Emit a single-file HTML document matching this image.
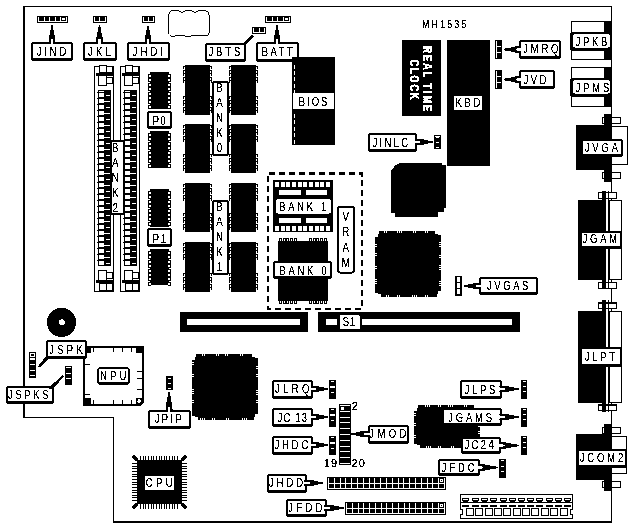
<!DOCTYPE html>
<html><head><meta charset="utf-8"><style>
html,body{margin:0;padding:0;background:#fff;}
body{width:633px;height:527px;overflow:hidden;font-family:"Liberation Sans",sans-serif;}
svg{display:block;}
</style></head><body>
<svg width="633" height="527" viewBox="0 0 633 527">
<defs><filter id="bw" x="0" y="0" width="633" height="527" filterUnits="userSpaceOnUse" color-interpolation-filters="sRGB">
<feColorMatrix type="matrix" values="0.333 0.333 0.333 0 0 0.333 0.333 0.333 0 0 0.333 0.333 0.333 0 0 0 0 0 1 0"/>
<feComponentTransfer><feFuncR type="discrete" tableValues="0 1"/><feFuncG type="discrete" tableValues="0 1"/><feFuncB type="discrete" tableValues="0 1"/></feComponentTransfer>
</filter></defs>
<g filter="url(#bw)">
<rect width="633" height="527" fill="#fff"/>
<rect x="23" y="6" width="589" height="1" fill="#000" />
<rect x="23" y="6" width="2" height="412" fill="#000" />
<rect x="23" y="417" width="91" height="1" fill="#000" />
<rect x="113" y="417" width="1" height="106" fill="#000" />
<rect x="113" y="521" width="499" height="2" fill="#000" />
<rect x="611" y="6" width="1" height="517" fill="#000" />
<rect x="37" y="16" width="31" height="7" fill="#000" />
<rect x="38" y="17" width="29" height="5" fill="#fff" />
<rect x="39" y="16" width="5" height="5" fill="#000" />
<rect x="45" y="16" width="4" height="5" fill="#000" />
<rect x="50" y="16" width="5" height="5" fill="#000" />
<rect x="56" y="16" width="4" height="5" fill="#000" />
<rect x="61" y="16" width="5" height="5" fill="#000" />
<rect x="62" y="18" width="3" height="2" fill="#fff" />
<rect x="93" y="16" width="14" height="7" fill="#000" />
<rect x="94" y="17" width="12" height="5" fill="#fff" />
<rect x="95" y="16" width="4" height="5" fill="#000" />
<rect x="100" y="16" width="5" height="5" fill="#000" />
<rect x="142" y="16" width="13" height="7" fill="#000" />
<rect x="143" y="17" width="11" height="5" fill="#fff" />
<rect x="144" y="16" width="4" height="5" fill="#000" />
<rect x="149" y="16" width="4" height="5" fill="#000" />
<rect x="252" y="27" width="14" height="7" fill="#000" />
<rect x="253" y="28" width="12" height="5" fill="#fff" />
<rect x="254" y="27" width="5" height="5" fill="#000" />
<rect x="260" y="27" width="4" height="5" fill="#000" />
<rect x="265" y="16" width="26" height="7" fill="#000" />
<rect x="266" y="17" width="24" height="5" fill="#fff" />
<rect x="267" y="16" width="5" height="5" fill="#000" />
<rect x="273" y="16" width="4" height="5" fill="#000" />
<rect x="278" y="16" width="5" height="5" fill="#000" />
<rect x="284" y="16" width="5" height="5" fill="#000" />
<rect x="285" y="18" width="3" height="2" fill="#fff" />
<rect x="31" y="42" width="42" height="19" rx="2" fill="#000"/>
<rect x="33" y="44" width="38" height="14" rx="1" fill="#fff"/>
<text transform="translate(51.50,55.6) scale(0.7,1)" text-anchor="middle" font-size="13.5" font-family="Liberation Sans, sans-serif" fill="#000" stroke="#000" stroke-width="0.2" font-weight="normal" textLength="42.29" lengthAdjust="spacing">JIND</text>
<polygon points="48.50,44.00 48.50,42.00 49.00,36.90 49.90,32.65 50.70,28.40 51.30,25.00 52.70,25.00 53.30,28.40 54.10,32.65 55.00,36.90 55.50,42.00 55.50,44.00" fill="#000"/>
<polygon points="51.00,44.50 51.00,39.28 51.50,38.60 52.50,38.60 53.00,39.28 53.00,44.50" fill="#fff"/>
<rect x="83" y="42" width="34" height="19" rx="2" fill="#000"/>
<rect x="85" y="44" width="30" height="14" rx="1" fill="#fff"/>
<text transform="translate(99.45,55.8) scale(0.7,1)" text-anchor="middle" font-size="13.5" font-family="Liberation Sans, sans-serif" fill="#000" stroke="#000" stroke-width="0.2" font-weight="normal" textLength="32.71" lengthAdjust="spacing">JKL</text>
<polygon points="96.00,44.00 96.00,42.00 96.50,37.05 97.40,32.92 98.20,28.80 98.80,25.50 100.20,25.50 100.80,28.80 101.60,32.92 102.50,37.05 103.00,42.00 103.00,44.00" fill="#000"/>
<polygon points="98.50,44.50 98.50,39.36 99.00,38.70 100.00,38.70 100.50,39.36 100.50,44.50" fill="#fff"/>
<rect x="127" y="42" width="43" height="19" rx="2" fill="#000"/>
<rect x="129" y="44" width="39" height="14" rx="1" fill="#fff"/>
<text transform="translate(147.80,55.8) scale(0.7,1)" text-anchor="middle" font-size="13.5" font-family="Liberation Sans, sans-serif" fill="#000" stroke="#000" stroke-width="0.2" font-weight="normal" textLength="43.71" lengthAdjust="spacing">JHDI</text>
<polygon points="144.50,44.00 144.50,42.00 145.00,37.05 145.90,32.92 146.70,28.80 147.30,25.50 148.70,25.50 149.30,28.80 150.10,32.92 151.00,37.05 151.50,42.00 151.50,44.00" fill="#000"/>
<polygon points="147.00,44.50 147.00,39.36 147.50,38.70 148.50,38.70 149.00,39.36 149.00,44.50" fill="#fff"/>
<rect x="205" y="43" width="41" height="19" rx="2" fill="#000"/>
<rect x="207" y="45" width="37" height="14" rx="1" fill="#fff"/>
<text transform="translate(224.40,56) scale(0.7,1)" text-anchor="middle" font-size="13.5" font-family="Liberation Sans, sans-serif" fill="#000" stroke="#000" stroke-width="0.2" font-weight="normal" textLength="45.71" lengthAdjust="spacing">JBTS</text>
<polygon points="242.80,43.20 245.80,44.80 254.40,36.40 252.30,34.80" fill="#000"/>
<rect x="256" y="42" width="43" height="20" rx="2" fill="#000"/>
<rect x="258" y="44" width="39" height="15" rx="1" fill="#fff"/>
<text transform="translate(277.25,55.9) scale(0.7,1)" text-anchor="middle" font-size="13.5" font-family="Liberation Sans, sans-serif" fill="#000" stroke="#000" stroke-width="0.2" font-weight="normal" textLength="44.43" lengthAdjust="spacing">BATT</text>
<polygon points="273.50,44.00 273.50,42.00 274.00,36.90 274.90,32.65 275.70,28.40 276.30,25.00 277.70,25.00 278.30,28.40 279.10,32.65 280.00,36.90 280.50,42.00 280.50,44.00" fill="#000"/>
<polygon points="276.00,44.50 276.00,39.28 276.50,38.60 277.50,38.60 278.00,39.28 278.00,44.50" fill="#fff"/>
<path d="M168.5,16 L169.5,12.5 L172,10.5 L178.5,10.5 L181,12 L183,12 L186,10.5 L191,10.5 L194,12 L196,12 L199,10.5 L205,10.5 L208,11.5 L209.5,16 L209.5,32 L208,35 L205,36 L202,35.5 L192,35.5 L189,36.5 L186,36.5 L184,35.5 L176,35.5 L174,36.5 L171,36.5 L169,34.5 L168.5,32 Z" fill="none" stroke="#000" stroke-width="1"/>
<rect x="94" y="66" width="20" height="226" fill="#000" />
<rect x="95" y="67" width="18" height="224" fill="#fff" />
<rect x="99" y="65" width="8" height="8" fill="#000" />
<rect x="100" y="66" width="6" height="6" fill="#fff" />
<rect x="106" y="66" width="7" height="7" fill="#000" />
<rect x="107" y="67" width="5" height="5" fill="#fff" />
<rect x="96" y="73" width="17" height="3" fill="#000" />
<rect x="98" y="76" width="9" height="10" fill="#000" />
<rect x="99" y="76" width="7" height="9" fill="#fff" />
<rect x="106" y="77" width="7" height="7" fill="#000" />
<rect x="107" y="78" width="5" height="5" fill="#fff" />
<rect x="98" y="270" width="9" height="10" fill="#000" />
<rect x="99" y="271" width="7" height="9" fill="#fff" />
<rect x="106" y="272" width="7" height="7" fill="#000" />
<rect x="107" y="273" width="5" height="5" fill="#fff" />
<rect x="96" y="280" width="17" height="3" fill="#000" />
<rect x="99" y="283" width="8" height="8" fill="#000" />
<rect x="100" y="284" width="6" height="6" fill="#fff" />
<rect x="106" y="283" width="7" height="8" fill="#000" />
<rect x="107" y="284" width="5" height="6" fill="#fff" />
<rect x="97" y="90" width="14" height="176" fill="#000" />
<rect x="97" y="90" width="1" height="176" fill="#fff" />
<rect x="99" y="93" width="5" height="4" fill="#fff" />
<rect x="97" y="92" width="1" height="1" fill="#000" />
<rect x="106" y="95" width="4" height="1" fill="#fff" />
<rect x="99" y="99" width="5" height="4" fill="#fff" />
<rect x="97" y="98" width="1" height="1" fill="#000" />
<rect x="104" y="101" width="6" height="1" fill="#fff" />
<rect x="99" y="105" width="5" height="4" fill="#fff" />
<rect x="97" y="104" width="1" height="1" fill="#000" />
<rect x="106" y="107" width="4" height="1" fill="#fff" />
<rect x="99" y="111" width="5" height="4" fill="#fff" />
<rect x="97" y="110" width="1" height="1" fill="#000" />
<rect x="104" y="113" width="6" height="1" fill="#fff" />
<rect x="99" y="117" width="5" height="4" fill="#fff" />
<rect x="97" y="116" width="1" height="1" fill="#000" />
<rect x="106" y="119" width="4" height="1" fill="#fff" />
<rect x="99" y="123" width="5" height="4" fill="#fff" />
<rect x="97" y="122" width="1" height="1" fill="#000" />
<rect x="104" y="125" width="6" height="1" fill="#fff" />
<rect x="99" y="129" width="5" height="4" fill="#fff" />
<rect x="97" y="128" width="1" height="1" fill="#000" />
<rect x="106" y="131" width="4" height="1" fill="#fff" />
<rect x="99" y="135" width="5" height="4" fill="#fff" />
<rect x="97" y="134" width="1" height="1" fill="#000" />
<rect x="104" y="137" width="6" height="1" fill="#fff" />
<rect x="99" y="141" width="5" height="4" fill="#fff" />
<rect x="97" y="140" width="1" height="1" fill="#000" />
<rect x="106" y="143" width="4" height="1" fill="#fff" />
<rect x="99" y="147" width="5" height="4" fill="#fff" />
<rect x="97" y="146" width="1" height="1" fill="#000" />
<rect x="104" y="149" width="6" height="1" fill="#fff" />
<rect x="99" y="153" width="5" height="4" fill="#fff" />
<rect x="97" y="152" width="1" height="1" fill="#000" />
<rect x="106" y="155" width="4" height="1" fill="#fff" />
<rect x="99" y="159" width="5" height="4" fill="#fff" />
<rect x="97" y="158" width="1" height="1" fill="#000" />
<rect x="104" y="161" width="6" height="1" fill="#fff" />
<rect x="99" y="165" width="5" height="4" fill="#fff" />
<rect x="97" y="164" width="1" height="1" fill="#000" />
<rect x="106" y="167" width="4" height="1" fill="#fff" />
<rect x="99" y="171" width="5" height="4" fill="#fff" />
<rect x="97" y="170" width="1" height="1" fill="#000" />
<rect x="104" y="173" width="6" height="1" fill="#fff" />
<rect x="99" y="177" width="5" height="4" fill="#fff" />
<rect x="97" y="176" width="1" height="1" fill="#000" />
<rect x="106" y="179" width="4" height="1" fill="#fff" />
<rect x="99" y="183" width="5" height="4" fill="#fff" />
<rect x="97" y="182" width="1" height="1" fill="#000" />
<rect x="104" y="185" width="6" height="1" fill="#fff" />
<rect x="99" y="189" width="5" height="4" fill="#fff" />
<rect x="97" y="188" width="1" height="1" fill="#000" />
<rect x="106" y="191" width="4" height="1" fill="#fff" />
<rect x="99" y="195" width="5" height="4" fill="#fff" />
<rect x="97" y="194" width="1" height="1" fill="#000" />
<rect x="104" y="197" width="6" height="1" fill="#fff" />
<rect x="99" y="201" width="5" height="4" fill="#fff" />
<rect x="97" y="200" width="1" height="1" fill="#000" />
<rect x="106" y="203" width="4" height="1" fill="#fff" />
<rect x="99" y="207" width="5" height="4" fill="#fff" />
<rect x="97" y="206" width="1" height="1" fill="#000" />
<rect x="104" y="209" width="6" height="1" fill="#fff" />
<rect x="99" y="213" width="5" height="4" fill="#fff" />
<rect x="97" y="212" width="1" height="1" fill="#000" />
<rect x="106" y="215" width="4" height="1" fill="#fff" />
<rect x="99" y="219" width="5" height="4" fill="#fff" />
<rect x="97" y="218" width="1" height="1" fill="#000" />
<rect x="104" y="221" width="6" height="1" fill="#fff" />
<rect x="99" y="225" width="5" height="4" fill="#fff" />
<rect x="97" y="224" width="1" height="1" fill="#000" />
<rect x="106" y="227" width="4" height="1" fill="#fff" />
<rect x="99" y="231" width="5" height="4" fill="#fff" />
<rect x="97" y="230" width="1" height="1" fill="#000" />
<rect x="104" y="233" width="6" height="1" fill="#fff" />
<rect x="99" y="237" width="5" height="4" fill="#fff" />
<rect x="97" y="236" width="1" height="1" fill="#000" />
<rect x="106" y="239" width="4" height="1" fill="#fff" />
<rect x="99" y="243" width="5" height="4" fill="#fff" />
<rect x="97" y="242" width="1" height="1" fill="#000" />
<rect x="104" y="245" width="6" height="1" fill="#fff" />
<rect x="99" y="249" width="5" height="4" fill="#fff" />
<rect x="97" y="248" width="1" height="1" fill="#000" />
<rect x="106" y="251" width="4" height="1" fill="#fff" />
<rect x="99" y="255" width="5" height="4" fill="#fff" />
<rect x="97" y="254" width="1" height="1" fill="#000" />
<rect x="104" y="257" width="6" height="1" fill="#fff" />
<rect x="99" y="261" width="5" height="4" fill="#fff" />
<rect x="97" y="260" width="1" height="1" fill="#000" />
<rect x="106" y="263" width="4" height="1" fill="#fff" />
<rect x="99" y="91" width="5" height="1" fill="#fff" />
<rect x="120" y="66" width="20" height="226" fill="#000" />
<rect x="121" y="67" width="18" height="224" fill="#fff" />
<rect x="125" y="65" width="8" height="8" fill="#000" />
<rect x="126" y="66" width="6" height="6" fill="#fff" />
<rect x="132" y="66" width="7" height="7" fill="#000" />
<rect x="133" y="67" width="5" height="5" fill="#fff" />
<rect x="122" y="73" width="17" height="3" fill="#000" />
<rect x="124" y="76" width="9" height="10" fill="#000" />
<rect x="125" y="76" width="7" height="9" fill="#fff" />
<rect x="132" y="77" width="7" height="7" fill="#000" />
<rect x="133" y="78" width="5" height="5" fill="#fff" />
<rect x="124" y="270" width="9" height="10" fill="#000" />
<rect x="125" y="271" width="7" height="9" fill="#fff" />
<rect x="132" y="272" width="7" height="7" fill="#000" />
<rect x="133" y="273" width="5" height="5" fill="#fff" />
<rect x="122" y="280" width="17" height="3" fill="#000" />
<rect x="125" y="283" width="8" height="8" fill="#000" />
<rect x="126" y="284" width="6" height="6" fill="#fff" />
<rect x="132" y="283" width="7" height="8" fill="#000" />
<rect x="133" y="284" width="5" height="6" fill="#fff" />
<rect x="123" y="90" width="14" height="176" fill="#000" />
<rect x="123" y="90" width="1" height="176" fill="#fff" />
<rect x="125" y="93" width="5" height="4" fill="#fff" />
<rect x="123" y="92" width="1" height="1" fill="#000" />
<rect x="132" y="95" width="4" height="1" fill="#fff" />
<rect x="125" y="99" width="5" height="4" fill="#fff" />
<rect x="123" y="98" width="1" height="1" fill="#000" />
<rect x="130" y="101" width="6" height="1" fill="#fff" />
<rect x="125" y="105" width="5" height="4" fill="#fff" />
<rect x="123" y="104" width="1" height="1" fill="#000" />
<rect x="132" y="107" width="4" height="1" fill="#fff" />
<rect x="125" y="111" width="5" height="4" fill="#fff" />
<rect x="123" y="110" width="1" height="1" fill="#000" />
<rect x="130" y="113" width="6" height="1" fill="#fff" />
<rect x="125" y="117" width="5" height="4" fill="#fff" />
<rect x="123" y="116" width="1" height="1" fill="#000" />
<rect x="132" y="119" width="4" height="1" fill="#fff" />
<rect x="125" y="123" width="5" height="4" fill="#fff" />
<rect x="123" y="122" width="1" height="1" fill="#000" />
<rect x="130" y="125" width="6" height="1" fill="#fff" />
<rect x="125" y="129" width="5" height="4" fill="#fff" />
<rect x="123" y="128" width="1" height="1" fill="#000" />
<rect x="132" y="131" width="4" height="1" fill="#fff" />
<rect x="125" y="135" width="5" height="4" fill="#fff" />
<rect x="123" y="134" width="1" height="1" fill="#000" />
<rect x="130" y="137" width="6" height="1" fill="#fff" />
<rect x="125" y="141" width="5" height="4" fill="#fff" />
<rect x="123" y="140" width="1" height="1" fill="#000" />
<rect x="132" y="143" width="4" height="1" fill="#fff" />
<rect x="125" y="147" width="5" height="4" fill="#fff" />
<rect x="123" y="146" width="1" height="1" fill="#000" />
<rect x="130" y="149" width="6" height="1" fill="#fff" />
<rect x="125" y="153" width="5" height="4" fill="#fff" />
<rect x="123" y="152" width="1" height="1" fill="#000" />
<rect x="132" y="155" width="4" height="1" fill="#fff" />
<rect x="125" y="159" width="5" height="4" fill="#fff" />
<rect x="123" y="158" width="1" height="1" fill="#000" />
<rect x="130" y="161" width="6" height="1" fill="#fff" />
<rect x="125" y="165" width="5" height="4" fill="#fff" />
<rect x="123" y="164" width="1" height="1" fill="#000" />
<rect x="132" y="167" width="4" height="1" fill="#fff" />
<rect x="125" y="171" width="5" height="4" fill="#fff" />
<rect x="123" y="170" width="1" height="1" fill="#000" />
<rect x="130" y="173" width="6" height="1" fill="#fff" />
<rect x="125" y="177" width="5" height="4" fill="#fff" />
<rect x="123" y="176" width="1" height="1" fill="#000" />
<rect x="132" y="179" width="4" height="1" fill="#fff" />
<rect x="125" y="183" width="5" height="4" fill="#fff" />
<rect x="123" y="182" width="1" height="1" fill="#000" />
<rect x="130" y="185" width="6" height="1" fill="#fff" />
<rect x="125" y="189" width="5" height="4" fill="#fff" />
<rect x="123" y="188" width="1" height="1" fill="#000" />
<rect x="132" y="191" width="4" height="1" fill="#fff" />
<rect x="125" y="195" width="5" height="4" fill="#fff" />
<rect x="123" y="194" width="1" height="1" fill="#000" />
<rect x="130" y="197" width="6" height="1" fill="#fff" />
<rect x="125" y="201" width="5" height="4" fill="#fff" />
<rect x="123" y="200" width="1" height="1" fill="#000" />
<rect x="132" y="203" width="4" height="1" fill="#fff" />
<rect x="125" y="207" width="5" height="4" fill="#fff" />
<rect x="123" y="206" width="1" height="1" fill="#000" />
<rect x="130" y="209" width="6" height="1" fill="#fff" />
<rect x="125" y="213" width="5" height="4" fill="#fff" />
<rect x="123" y="212" width="1" height="1" fill="#000" />
<rect x="132" y="215" width="4" height="1" fill="#fff" />
<rect x="125" y="219" width="5" height="4" fill="#fff" />
<rect x="123" y="218" width="1" height="1" fill="#000" />
<rect x="130" y="221" width="6" height="1" fill="#fff" />
<rect x="125" y="225" width="5" height="4" fill="#fff" />
<rect x="123" y="224" width="1" height="1" fill="#000" />
<rect x="132" y="227" width="4" height="1" fill="#fff" />
<rect x="125" y="231" width="5" height="4" fill="#fff" />
<rect x="123" y="230" width="1" height="1" fill="#000" />
<rect x="130" y="233" width="6" height="1" fill="#fff" />
<rect x="125" y="237" width="5" height="4" fill="#fff" />
<rect x="123" y="236" width="1" height="1" fill="#000" />
<rect x="132" y="239" width="4" height="1" fill="#fff" />
<rect x="125" y="243" width="5" height="4" fill="#fff" />
<rect x="123" y="242" width="1" height="1" fill="#000" />
<rect x="130" y="245" width="6" height="1" fill="#fff" />
<rect x="125" y="249" width="5" height="4" fill="#fff" />
<rect x="123" y="248" width="1" height="1" fill="#000" />
<rect x="132" y="251" width="4" height="1" fill="#fff" />
<rect x="125" y="255" width="5" height="4" fill="#fff" />
<rect x="123" y="254" width="1" height="1" fill="#000" />
<rect x="130" y="257" width="6" height="1" fill="#fff" />
<rect x="125" y="261" width="5" height="4" fill="#fff" />
<rect x="123" y="260" width="1" height="1" fill="#000" />
<rect x="132" y="263" width="4" height="1" fill="#fff" />
<rect x="125" y="91" width="5" height="1" fill="#fff" />
<rect x="110" y="140" width="15" height="75" rx="2" fill="#000"/>
<rect x="112" y="142" width="11" height="71" rx="1" fill="#fff"/>
<text transform="translate(115.30,151.5) scale(0.78,1)" text-anchor="middle" font-size="12.5" font-family="Liberation Sans, sans-serif" fill="#000" stroke="#000" stroke-width="0.2">B</text>
<text transform="translate(115.30,166.525) scale(0.78,1)" text-anchor="middle" font-size="12.5" font-family="Liberation Sans, sans-serif" fill="#000" stroke="#000" stroke-width="0.2">A</text>
<text transform="translate(115.30,181.55) scale(0.78,1)" text-anchor="middle" font-size="12.5" font-family="Liberation Sans, sans-serif" fill="#000" stroke="#000" stroke-width="0.2">N</text>
<text transform="translate(115.30,196.575) scale(0.78,1)" text-anchor="middle" font-size="12.5" font-family="Liberation Sans, sans-serif" fill="#000" stroke="#000" stroke-width="0.2">K</text>
<text transform="translate(115.30,211.6) scale(0.78,1)" text-anchor="middle" font-size="12.5" font-family="Liberation Sans, sans-serif" fill="#000" stroke="#000" stroke-width="0.2">2</text>
<rect x="150" y="72" width="19" height="37" fill="#000" />
<rect x="148" y="74" width="3" height="4" fill="#000" />
<rect x="149" y="75" width="2" height="2" fill="#fff" />
<rect x="168" y="74" width="3" height="4" fill="#000" />
<rect x="168" y="75" width="2" height="2" fill="#fff" />
<rect x="148" y="78" width="3" height="4" fill="#000" />
<rect x="149" y="79" width="2" height="2" fill="#fff" />
<rect x="168" y="78" width="3" height="4" fill="#000" />
<rect x="168" y="79" width="2" height="2" fill="#fff" />
<rect x="148" y="83" width="3" height="4" fill="#000" />
<rect x="149" y="84" width="2" height="2" fill="#fff" />
<rect x="168" y="83" width="3" height="4" fill="#000" />
<rect x="168" y="84" width="2" height="2" fill="#fff" />
<rect x="148" y="87" width="3" height="4" fill="#000" />
<rect x="149" y="88" width="2" height="2" fill="#fff" />
<rect x="168" y="87" width="3" height="4" fill="#000" />
<rect x="168" y="88" width="2" height="2" fill="#fff" />
<rect x="148" y="92" width="3" height="4" fill="#000" />
<rect x="149" y="93" width="2" height="2" fill="#fff" />
<rect x="168" y="92" width="3" height="4" fill="#000" />
<rect x="168" y="93" width="2" height="2" fill="#fff" />
<rect x="148" y="96" width="3" height="4" fill="#000" />
<rect x="149" y="97" width="2" height="2" fill="#fff" />
<rect x="168" y="96" width="3" height="4" fill="#000" />
<rect x="168" y="97" width="2" height="2" fill="#fff" />
<rect x="148" y="100" width="3" height="4" fill="#000" />
<rect x="149" y="101" width="2" height="2" fill="#fff" />
<rect x="168" y="100" width="3" height="4" fill="#000" />
<rect x="168" y="101" width="2" height="2" fill="#fff" />
<rect x="148" y="105" width="3" height="4" fill="#000" />
<rect x="149" y="106" width="2" height="2" fill="#fff" />
<rect x="168" y="105" width="3" height="4" fill="#000" />
<rect x="168" y="106" width="2" height="2" fill="#fff" />
<rect x="150" y="131" width="19" height="37" fill="#000" />
<rect x="148" y="133" width="3" height="4" fill="#000" />
<rect x="149" y="134" width="2" height="2" fill="#fff" />
<rect x="168" y="133" width="3" height="4" fill="#000" />
<rect x="168" y="134" width="2" height="2" fill="#fff" />
<rect x="148" y="137" width="3" height="4" fill="#000" />
<rect x="149" y="138" width="2" height="2" fill="#fff" />
<rect x="168" y="137" width="3" height="4" fill="#000" />
<rect x="168" y="138" width="2" height="2" fill="#fff" />
<rect x="148" y="142" width="3" height="4" fill="#000" />
<rect x="149" y="143" width="2" height="2" fill="#fff" />
<rect x="168" y="142" width="3" height="4" fill="#000" />
<rect x="168" y="143" width="2" height="2" fill="#fff" />
<rect x="148" y="146" width="3" height="4" fill="#000" />
<rect x="149" y="147" width="2" height="2" fill="#fff" />
<rect x="168" y="146" width="3" height="4" fill="#000" />
<rect x="168" y="147" width="2" height="2" fill="#fff" />
<rect x="148" y="151" width="3" height="4" fill="#000" />
<rect x="149" y="152" width="2" height="2" fill="#fff" />
<rect x="168" y="151" width="3" height="4" fill="#000" />
<rect x="168" y="152" width="2" height="2" fill="#fff" />
<rect x="148" y="155" width="3" height="4" fill="#000" />
<rect x="149" y="156" width="2" height="2" fill="#fff" />
<rect x="168" y="155" width="3" height="4" fill="#000" />
<rect x="168" y="156" width="2" height="2" fill="#fff" />
<rect x="148" y="159" width="3" height="4" fill="#000" />
<rect x="149" y="160" width="2" height="2" fill="#fff" />
<rect x="168" y="159" width="3" height="4" fill="#000" />
<rect x="168" y="160" width="2" height="2" fill="#fff" />
<rect x="148" y="164" width="3" height="4" fill="#000" />
<rect x="149" y="165" width="2" height="2" fill="#fff" />
<rect x="168" y="164" width="3" height="4" fill="#000" />
<rect x="168" y="165" width="2" height="2" fill="#fff" />
<rect x="150" y="189" width="19" height="38" fill="#000" />
<rect x="148" y="191" width="3" height="4" fill="#000" />
<rect x="149" y="192" width="2" height="2" fill="#fff" />
<rect x="168" y="191" width="3" height="4" fill="#000" />
<rect x="168" y="192" width="2" height="2" fill="#fff" />
<rect x="148" y="195" width="3" height="4" fill="#000" />
<rect x="149" y="196" width="2" height="2" fill="#fff" />
<rect x="168" y="195" width="3" height="4" fill="#000" />
<rect x="168" y="196" width="2" height="2" fill="#fff" />
<rect x="148" y="200" width="3" height="4" fill="#000" />
<rect x="149" y="201" width="2" height="2" fill="#fff" />
<rect x="168" y="200" width="3" height="4" fill="#000" />
<rect x="168" y="201" width="2" height="2" fill="#fff" />
<rect x="148" y="204" width="3" height="4" fill="#000" />
<rect x="149" y="205" width="2" height="2" fill="#fff" />
<rect x="168" y="204" width="3" height="4" fill="#000" />
<rect x="168" y="205" width="2" height="2" fill="#fff" />
<rect x="148" y="209" width="3" height="4" fill="#000" />
<rect x="149" y="210" width="2" height="2" fill="#fff" />
<rect x="168" y="209" width="3" height="4" fill="#000" />
<rect x="168" y="210" width="2" height="2" fill="#fff" />
<rect x="148" y="213" width="3" height="4" fill="#000" />
<rect x="149" y="214" width="2" height="2" fill="#fff" />
<rect x="168" y="213" width="3" height="4" fill="#000" />
<rect x="168" y="214" width="2" height="2" fill="#fff" />
<rect x="148" y="217" width="3" height="4" fill="#000" />
<rect x="149" y="218" width="2" height="2" fill="#fff" />
<rect x="168" y="217" width="3" height="4" fill="#000" />
<rect x="168" y="218" width="2" height="2" fill="#fff" />
<rect x="148" y="222" width="3" height="4" fill="#000" />
<rect x="149" y="223" width="2" height="2" fill="#fff" />
<rect x="168" y="222" width="3" height="4" fill="#000" />
<rect x="168" y="223" width="2" height="2" fill="#fff" />
<rect x="150" y="249" width="19" height="36" fill="#000" />
<rect x="148" y="251" width="3" height="4" fill="#000" />
<rect x="149" y="252" width="2" height="2" fill="#fff" />
<rect x="168" y="251" width="3" height="4" fill="#000" />
<rect x="168" y="252" width="2" height="2" fill="#fff" />
<rect x="148" y="255" width="3" height="4" fill="#000" />
<rect x="149" y="256" width="2" height="2" fill="#fff" />
<rect x="168" y="255" width="3" height="4" fill="#000" />
<rect x="168" y="256" width="2" height="2" fill="#fff" />
<rect x="148" y="260" width="3" height="4" fill="#000" />
<rect x="149" y="261" width="2" height="2" fill="#fff" />
<rect x="168" y="260" width="3" height="4" fill="#000" />
<rect x="168" y="261" width="2" height="2" fill="#fff" />
<rect x="148" y="264" width="3" height="4" fill="#000" />
<rect x="149" y="265" width="2" height="2" fill="#fff" />
<rect x="168" y="264" width="3" height="4" fill="#000" />
<rect x="168" y="265" width="2" height="2" fill="#fff" />
<rect x="148" y="269" width="3" height="4" fill="#000" />
<rect x="149" y="270" width="2" height="2" fill="#fff" />
<rect x="168" y="269" width="3" height="4" fill="#000" />
<rect x="168" y="270" width="2" height="2" fill="#fff" />
<rect x="148" y="273" width="3" height="4" fill="#000" />
<rect x="149" y="274" width="2" height="2" fill="#fff" />
<rect x="168" y="273" width="3" height="4" fill="#000" />
<rect x="168" y="274" width="2" height="2" fill="#fff" />
<rect x="148" y="277" width="3" height="4" fill="#000" />
<rect x="149" y="278" width="2" height="2" fill="#fff" />
<rect x="168" y="277" width="3" height="4" fill="#000" />
<rect x="168" y="278" width="2" height="2" fill="#fff" />
<rect x="148" y="282" width="3" height="4" fill="#000" />
<rect x="149" y="283" width="2" height="2" fill="#fff" />
<rect x="168" y="282" width="3" height="4" fill="#000" />
<rect x="168" y="283" width="2" height="2" fill="#fff" />
<rect x="147" y="111" width="25" height="18" rx="2" fill="#000"/>
<rect x="149" y="113" width="21" height="13" rx="1" fill="#fff"/>
<text transform="translate(159.20,125) scale(0.7,1)" text-anchor="middle" font-size="13.5" font-family="Liberation Sans, sans-serif" fill="#000" stroke="#000" stroke-width="0.2" font-weight="normal" textLength="18.57" lengthAdjust="spacing">P0</text>
<rect x="147" y="228" width="25" height="19" rx="2" fill="#000"/>
<rect x="149" y="230" width="21" height="14" rx="1" fill="#fff"/>
<text transform="translate(159.30,242.5) scale(0.7,1)" text-anchor="middle" font-size="13.5" font-family="Liberation Sans, sans-serif" fill="#000" stroke="#000" stroke-width="0.2" font-weight="normal" textLength="18.86" lengthAdjust="spacing">P1</text>
<rect x="185" y="65" width="25" height="50" fill="#000" />
<rect x="183" y="66" width="3" height="3" fill="#000" />
<rect x="184" y="67" width="1" height="1.5" fill="#fff" />
<rect x="209" y="66" width="3" height="3" fill="#000" />
<rect x="210" y="67" width="1" height="1.5" fill="#fff" />
<rect x="183" y="70" width="3" height="3" fill="#000" />
<rect x="184" y="71" width="1" height="1.5" fill="#fff" />
<rect x="209" y="70" width="3" height="3" fill="#000" />
<rect x="210" y="71" width="1" height="1.5" fill="#fff" />
<rect x="183" y="73" width="3" height="3" fill="#000" />
<rect x="184" y="74" width="1" height="1.5" fill="#fff" />
<rect x="209" y="73" width="3" height="3" fill="#000" />
<rect x="210" y="74" width="1" height="1.5" fill="#fff" />
<rect x="183" y="77" width="3" height="3" fill="#000" />
<rect x="184" y="78" width="1" height="1.5" fill="#fff" />
<rect x="209" y="77" width="3" height="3" fill="#000" />
<rect x="210" y="78" width="1" height="1.5" fill="#fff" />
<rect x="183" y="80" width="3" height="3" fill="#000" />
<rect x="184" y="81" width="1" height="1.5" fill="#fff" />
<rect x="209" y="80" width="3" height="3" fill="#000" />
<rect x="210" y="81" width="1" height="1.5" fill="#fff" />
<rect x="183" y="96" width="3" height="3" fill="#000" />
<rect x="184" y="97" width="1" height="1.5" fill="#fff" />
<rect x="209" y="96" width="3" height="3" fill="#000" />
<rect x="210" y="97" width="1" height="1.5" fill="#fff" />
<rect x="183" y="100" width="3" height="3" fill="#000" />
<rect x="184" y="101" width="1" height="1.5" fill="#fff" />
<rect x="209" y="100" width="3" height="3" fill="#000" />
<rect x="210" y="101" width="1" height="1.5" fill="#fff" />
<rect x="183" y="103" width="3" height="3" fill="#000" />
<rect x="184" y="104" width="1" height="1.5" fill="#fff" />
<rect x="209" y="103" width="3" height="3" fill="#000" />
<rect x="210" y="104" width="1" height="1.5" fill="#fff" />
<rect x="183" y="107" width="3" height="3" fill="#000" />
<rect x="184" y="108" width="1" height="1.5" fill="#fff" />
<rect x="209" y="107" width="3" height="3" fill="#000" />
<rect x="210" y="108" width="1" height="1.5" fill="#fff" />
<rect x="183" y="110" width="3" height="3" fill="#000" />
<rect x="184" y="111" width="1" height="1.5" fill="#fff" />
<rect x="209" y="110" width="3" height="3" fill="#000" />
<rect x="210" y="111" width="1" height="1.5" fill="#fff" />
<rect x="231" y="65" width="25" height="50" fill="#000" />
<rect x="229" y="66" width="3" height="3" fill="#000" />
<rect x="230" y="67" width="1" height="1.5" fill="#fff" />
<rect x="255" y="66" width="3" height="3" fill="#000" />
<rect x="256" y="67" width="1" height="1.5" fill="#fff" />
<rect x="229" y="70" width="3" height="3" fill="#000" />
<rect x="230" y="71" width="1" height="1.5" fill="#fff" />
<rect x="255" y="70" width="3" height="3" fill="#000" />
<rect x="256" y="71" width="1" height="1.5" fill="#fff" />
<rect x="229" y="73" width="3" height="3" fill="#000" />
<rect x="230" y="74" width="1" height="1.5" fill="#fff" />
<rect x="255" y="73" width="3" height="3" fill="#000" />
<rect x="256" y="74" width="1" height="1.5" fill="#fff" />
<rect x="229" y="77" width="3" height="3" fill="#000" />
<rect x="230" y="78" width="1" height="1.5" fill="#fff" />
<rect x="255" y="77" width="3" height="3" fill="#000" />
<rect x="256" y="78" width="1" height="1.5" fill="#fff" />
<rect x="229" y="80" width="3" height="3" fill="#000" />
<rect x="230" y="81" width="1" height="1.5" fill="#fff" />
<rect x="255" y="80" width="3" height="3" fill="#000" />
<rect x="256" y="81" width="1" height="1.5" fill="#fff" />
<rect x="229" y="96" width="3" height="3" fill="#000" />
<rect x="230" y="97" width="1" height="1.5" fill="#fff" />
<rect x="255" y="96" width="3" height="3" fill="#000" />
<rect x="256" y="97" width="1" height="1.5" fill="#fff" />
<rect x="229" y="100" width="3" height="3" fill="#000" />
<rect x="230" y="101" width="1" height="1.5" fill="#fff" />
<rect x="255" y="100" width="3" height="3" fill="#000" />
<rect x="256" y="101" width="1" height="1.5" fill="#fff" />
<rect x="229" y="103" width="3" height="3" fill="#000" />
<rect x="230" y="104" width="1" height="1.5" fill="#fff" />
<rect x="255" y="103" width="3" height="3" fill="#000" />
<rect x="256" y="104" width="1" height="1.5" fill="#fff" />
<rect x="229" y="107" width="3" height="3" fill="#000" />
<rect x="230" y="108" width="1" height="1.5" fill="#fff" />
<rect x="255" y="107" width="3" height="3" fill="#000" />
<rect x="256" y="108" width="1" height="1.5" fill="#fff" />
<rect x="229" y="110" width="3" height="3" fill="#000" />
<rect x="230" y="111" width="1" height="1.5" fill="#fff" />
<rect x="255" y="110" width="3" height="3" fill="#000" />
<rect x="256" y="111" width="1" height="1.5" fill="#fff" />
<rect x="185" y="124" width="25" height="49" fill="#000" />
<rect x="183" y="125" width="3" height="3" fill="#000" />
<rect x="184" y="126" width="1" height="1.5" fill="#fff" />
<rect x="209" y="125" width="3" height="3" fill="#000" />
<rect x="210" y="126" width="1" height="1.5" fill="#fff" />
<rect x="183" y="129" width="3" height="3" fill="#000" />
<rect x="184" y="130" width="1" height="1.5" fill="#fff" />
<rect x="209" y="129" width="3" height="3" fill="#000" />
<rect x="210" y="130" width="1" height="1.5" fill="#fff" />
<rect x="183" y="132" width="3" height="3" fill="#000" />
<rect x="184" y="133" width="1" height="1.5" fill="#fff" />
<rect x="209" y="132" width="3" height="3" fill="#000" />
<rect x="210" y="133" width="1" height="1.5" fill="#fff" />
<rect x="183" y="136" width="3" height="3" fill="#000" />
<rect x="184" y="137" width="1" height="1.5" fill="#fff" />
<rect x="209" y="136" width="3" height="3" fill="#000" />
<rect x="210" y="137" width="1" height="1.5" fill="#fff" />
<rect x="183" y="139" width="3" height="3" fill="#000" />
<rect x="184" y="140" width="1" height="1.5" fill="#fff" />
<rect x="209" y="139" width="3" height="3" fill="#000" />
<rect x="210" y="140" width="1" height="1.5" fill="#fff" />
<rect x="183" y="154" width="3" height="3" fill="#000" />
<rect x="184" y="155" width="1" height="1.5" fill="#fff" />
<rect x="209" y="154" width="3" height="3" fill="#000" />
<rect x="210" y="155" width="1" height="1.5" fill="#fff" />
<rect x="183" y="158" width="3" height="3" fill="#000" />
<rect x="184" y="159" width="1" height="1.5" fill="#fff" />
<rect x="209" y="158" width="3" height="3" fill="#000" />
<rect x="210" y="159" width="1" height="1.5" fill="#fff" />
<rect x="183" y="161" width="3" height="3" fill="#000" />
<rect x="184" y="162" width="1" height="1.5" fill="#fff" />
<rect x="209" y="161" width="3" height="3" fill="#000" />
<rect x="210" y="162" width="1" height="1.5" fill="#fff" />
<rect x="183" y="165" width="3" height="3" fill="#000" />
<rect x="184" y="166" width="1" height="1.5" fill="#fff" />
<rect x="209" y="165" width="3" height="3" fill="#000" />
<rect x="210" y="166" width="1" height="1.5" fill="#fff" />
<rect x="183" y="168" width="3" height="3" fill="#000" />
<rect x="184" y="169" width="1" height="1.5" fill="#fff" />
<rect x="209" y="168" width="3" height="3" fill="#000" />
<rect x="210" y="169" width="1" height="1.5" fill="#fff" />
<rect x="231" y="124" width="25" height="49" fill="#000" />
<rect x="229" y="125" width="3" height="3" fill="#000" />
<rect x="230" y="126" width="1" height="1.5" fill="#fff" />
<rect x="255" y="125" width="3" height="3" fill="#000" />
<rect x="256" y="126" width="1" height="1.5" fill="#fff" />
<rect x="229" y="129" width="3" height="3" fill="#000" />
<rect x="230" y="130" width="1" height="1.5" fill="#fff" />
<rect x="255" y="129" width="3" height="3" fill="#000" />
<rect x="256" y="130" width="1" height="1.5" fill="#fff" />
<rect x="229" y="132" width="3" height="3" fill="#000" />
<rect x="230" y="133" width="1" height="1.5" fill="#fff" />
<rect x="255" y="132" width="3" height="3" fill="#000" />
<rect x="256" y="133" width="1" height="1.5" fill="#fff" />
<rect x="229" y="136" width="3" height="3" fill="#000" />
<rect x="230" y="137" width="1" height="1.5" fill="#fff" />
<rect x="255" y="136" width="3" height="3" fill="#000" />
<rect x="256" y="137" width="1" height="1.5" fill="#fff" />
<rect x="229" y="139" width="3" height="3" fill="#000" />
<rect x="230" y="140" width="1" height="1.5" fill="#fff" />
<rect x="255" y="139" width="3" height="3" fill="#000" />
<rect x="256" y="140" width="1" height="1.5" fill="#fff" />
<rect x="229" y="154" width="3" height="3" fill="#000" />
<rect x="230" y="155" width="1" height="1.5" fill="#fff" />
<rect x="255" y="154" width="3" height="3" fill="#000" />
<rect x="256" y="155" width="1" height="1.5" fill="#fff" />
<rect x="229" y="158" width="3" height="3" fill="#000" />
<rect x="230" y="159" width="1" height="1.5" fill="#fff" />
<rect x="255" y="158" width="3" height="3" fill="#000" />
<rect x="256" y="159" width="1" height="1.5" fill="#fff" />
<rect x="229" y="161" width="3" height="3" fill="#000" />
<rect x="230" y="162" width="1" height="1.5" fill="#fff" />
<rect x="255" y="161" width="3" height="3" fill="#000" />
<rect x="256" y="162" width="1" height="1.5" fill="#fff" />
<rect x="229" y="165" width="3" height="3" fill="#000" />
<rect x="230" y="166" width="1" height="1.5" fill="#fff" />
<rect x="255" y="165" width="3" height="3" fill="#000" />
<rect x="256" y="166" width="1" height="1.5" fill="#fff" />
<rect x="229" y="168" width="3" height="3" fill="#000" />
<rect x="230" y="169" width="1" height="1.5" fill="#fff" />
<rect x="255" y="168" width="3" height="3" fill="#000" />
<rect x="256" y="169" width="1" height="1.5" fill="#fff" />
<rect x="185" y="183" width="25" height="49" fill="#000" />
<rect x="183" y="184" width="3" height="3" fill="#000" />
<rect x="184" y="185" width="1" height="1.5" fill="#fff" />
<rect x="209" y="184" width="3" height="3" fill="#000" />
<rect x="210" y="185" width="1" height="1.5" fill="#fff" />
<rect x="183" y="188" width="3" height="3" fill="#000" />
<rect x="184" y="189" width="1" height="1.5" fill="#fff" />
<rect x="209" y="188" width="3" height="3" fill="#000" />
<rect x="210" y="189" width="1" height="1.5" fill="#fff" />
<rect x="183" y="191" width="3" height="3" fill="#000" />
<rect x="184" y="192" width="1" height="1.5" fill="#fff" />
<rect x="209" y="191" width="3" height="3" fill="#000" />
<rect x="210" y="192" width="1" height="1.5" fill="#fff" />
<rect x="183" y="195" width="3" height="3" fill="#000" />
<rect x="184" y="196" width="1" height="1.5" fill="#fff" />
<rect x="209" y="195" width="3" height="3" fill="#000" />
<rect x="210" y="196" width="1" height="1.5" fill="#fff" />
<rect x="183" y="198" width="3" height="3" fill="#000" />
<rect x="184" y="199" width="1" height="1.5" fill="#fff" />
<rect x="209" y="198" width="3" height="3" fill="#000" />
<rect x="210" y="199" width="1" height="1.5" fill="#fff" />
<rect x="183" y="213" width="3" height="3" fill="#000" />
<rect x="184" y="214" width="1" height="1.5" fill="#fff" />
<rect x="209" y="213" width="3" height="3" fill="#000" />
<rect x="210" y="214" width="1" height="1.5" fill="#fff" />
<rect x="183" y="217" width="3" height="3" fill="#000" />
<rect x="184" y="218" width="1" height="1.5" fill="#fff" />
<rect x="209" y="217" width="3" height="3" fill="#000" />
<rect x="210" y="218" width="1" height="1.5" fill="#fff" />
<rect x="183" y="220" width="3" height="3" fill="#000" />
<rect x="184" y="221" width="1" height="1.5" fill="#fff" />
<rect x="209" y="220" width="3" height="3" fill="#000" />
<rect x="210" y="221" width="1" height="1.5" fill="#fff" />
<rect x="183" y="224" width="3" height="3" fill="#000" />
<rect x="184" y="225" width="1" height="1.5" fill="#fff" />
<rect x="209" y="224" width="3" height="3" fill="#000" />
<rect x="210" y="225" width="1" height="1.5" fill="#fff" />
<rect x="183" y="227" width="3" height="3" fill="#000" />
<rect x="184" y="228" width="1" height="1.5" fill="#fff" />
<rect x="209" y="227" width="3" height="3" fill="#000" />
<rect x="210" y="228" width="1" height="1.5" fill="#fff" />
<rect x="231" y="183" width="25" height="49" fill="#000" />
<rect x="229" y="184" width="3" height="3" fill="#000" />
<rect x="230" y="185" width="1" height="1.5" fill="#fff" />
<rect x="255" y="184" width="3" height="3" fill="#000" />
<rect x="256" y="185" width="1" height="1.5" fill="#fff" />
<rect x="229" y="188" width="3" height="3" fill="#000" />
<rect x="230" y="189" width="1" height="1.5" fill="#fff" />
<rect x="255" y="188" width="3" height="3" fill="#000" />
<rect x="256" y="189" width="1" height="1.5" fill="#fff" />
<rect x="229" y="191" width="3" height="3" fill="#000" />
<rect x="230" y="192" width="1" height="1.5" fill="#fff" />
<rect x="255" y="191" width="3" height="3" fill="#000" />
<rect x="256" y="192" width="1" height="1.5" fill="#fff" />
<rect x="229" y="195" width="3" height="3" fill="#000" />
<rect x="230" y="196" width="1" height="1.5" fill="#fff" />
<rect x="255" y="195" width="3" height="3" fill="#000" />
<rect x="256" y="196" width="1" height="1.5" fill="#fff" />
<rect x="229" y="198" width="3" height="3" fill="#000" />
<rect x="230" y="199" width="1" height="1.5" fill="#fff" />
<rect x="255" y="198" width="3" height="3" fill="#000" />
<rect x="256" y="199" width="1" height="1.5" fill="#fff" />
<rect x="229" y="213" width="3" height="3" fill="#000" />
<rect x="230" y="214" width="1" height="1.5" fill="#fff" />
<rect x="255" y="213" width="3" height="3" fill="#000" />
<rect x="256" y="214" width="1" height="1.5" fill="#fff" />
<rect x="229" y="217" width="3" height="3" fill="#000" />
<rect x="230" y="218" width="1" height="1.5" fill="#fff" />
<rect x="255" y="217" width="3" height="3" fill="#000" />
<rect x="256" y="218" width="1" height="1.5" fill="#fff" />
<rect x="229" y="220" width="3" height="3" fill="#000" />
<rect x="230" y="221" width="1" height="1.5" fill="#fff" />
<rect x="255" y="220" width="3" height="3" fill="#000" />
<rect x="256" y="221" width="1" height="1.5" fill="#fff" />
<rect x="229" y="224" width="3" height="3" fill="#000" />
<rect x="230" y="225" width="1" height="1.5" fill="#fff" />
<rect x="255" y="224" width="3" height="3" fill="#000" />
<rect x="256" y="225" width="1" height="1.5" fill="#fff" />
<rect x="229" y="227" width="3" height="3" fill="#000" />
<rect x="230" y="228" width="1" height="1.5" fill="#fff" />
<rect x="255" y="227" width="3" height="3" fill="#000" />
<rect x="256" y="228" width="1" height="1.5" fill="#fff" />
<rect x="185" y="242" width="25" height="50" fill="#000" />
<rect x="183" y="243" width="3" height="3" fill="#000" />
<rect x="184" y="244" width="1" height="1.5" fill="#fff" />
<rect x="209" y="243" width="3" height="3" fill="#000" />
<rect x="210" y="244" width="1" height="1.5" fill="#fff" />
<rect x="183" y="247" width="3" height="3" fill="#000" />
<rect x="184" y="248" width="1" height="1.5" fill="#fff" />
<rect x="209" y="247" width="3" height="3" fill="#000" />
<rect x="210" y="248" width="1" height="1.5" fill="#fff" />
<rect x="183" y="250" width="3" height="3" fill="#000" />
<rect x="184" y="251" width="1" height="1.5" fill="#fff" />
<rect x="209" y="250" width="3" height="3" fill="#000" />
<rect x="210" y="251" width="1" height="1.5" fill="#fff" />
<rect x="183" y="254" width="3" height="3" fill="#000" />
<rect x="184" y="255" width="1" height="1.5" fill="#fff" />
<rect x="209" y="254" width="3" height="3" fill="#000" />
<rect x="210" y="255" width="1" height="1.5" fill="#fff" />
<rect x="183" y="257" width="3" height="3" fill="#000" />
<rect x="184" y="258" width="1" height="1.5" fill="#fff" />
<rect x="209" y="257" width="3" height="3" fill="#000" />
<rect x="210" y="258" width="1" height="1.5" fill="#fff" />
<rect x="183" y="273" width="3" height="3" fill="#000" />
<rect x="184" y="274" width="1" height="1.5" fill="#fff" />
<rect x="209" y="273" width="3" height="3" fill="#000" />
<rect x="210" y="274" width="1" height="1.5" fill="#fff" />
<rect x="183" y="277" width="3" height="3" fill="#000" />
<rect x="184" y="278" width="1" height="1.5" fill="#fff" />
<rect x="209" y="277" width="3" height="3" fill="#000" />
<rect x="210" y="278" width="1" height="1.5" fill="#fff" />
<rect x="183" y="280" width="3" height="3" fill="#000" />
<rect x="184" y="281" width="1" height="1.5" fill="#fff" />
<rect x="209" y="280" width="3" height="3" fill="#000" />
<rect x="210" y="281" width="1" height="1.5" fill="#fff" />
<rect x="183" y="284" width="3" height="3" fill="#000" />
<rect x="184" y="285" width="1" height="1.5" fill="#fff" />
<rect x="209" y="284" width="3" height="3" fill="#000" />
<rect x="210" y="285" width="1" height="1.5" fill="#fff" />
<rect x="183" y="287" width="3" height="3" fill="#000" />
<rect x="184" y="288" width="1" height="1.5" fill="#fff" />
<rect x="209" y="287" width="3" height="3" fill="#000" />
<rect x="210" y="288" width="1" height="1.5" fill="#fff" />
<rect x="231" y="242" width="25" height="50" fill="#000" />
<rect x="229" y="243" width="3" height="3" fill="#000" />
<rect x="230" y="244" width="1" height="1.5" fill="#fff" />
<rect x="255" y="243" width="3" height="3" fill="#000" />
<rect x="256" y="244" width="1" height="1.5" fill="#fff" />
<rect x="229" y="247" width="3" height="3" fill="#000" />
<rect x="230" y="248" width="1" height="1.5" fill="#fff" />
<rect x="255" y="247" width="3" height="3" fill="#000" />
<rect x="256" y="248" width="1" height="1.5" fill="#fff" />
<rect x="229" y="250" width="3" height="3" fill="#000" />
<rect x="230" y="251" width="1" height="1.5" fill="#fff" />
<rect x="255" y="250" width="3" height="3" fill="#000" />
<rect x="256" y="251" width="1" height="1.5" fill="#fff" />
<rect x="229" y="254" width="3" height="3" fill="#000" />
<rect x="230" y="255" width="1" height="1.5" fill="#fff" />
<rect x="255" y="254" width="3" height="3" fill="#000" />
<rect x="256" y="255" width="1" height="1.5" fill="#fff" />
<rect x="229" y="257" width="3" height="3" fill="#000" />
<rect x="230" y="258" width="1" height="1.5" fill="#fff" />
<rect x="255" y="257" width="3" height="3" fill="#000" />
<rect x="256" y="258" width="1" height="1.5" fill="#fff" />
<rect x="229" y="273" width="3" height="3" fill="#000" />
<rect x="230" y="274" width="1" height="1.5" fill="#fff" />
<rect x="255" y="273" width="3" height="3" fill="#000" />
<rect x="256" y="274" width="1" height="1.5" fill="#fff" />
<rect x="229" y="277" width="3" height="3" fill="#000" />
<rect x="230" y="278" width="1" height="1.5" fill="#fff" />
<rect x="255" y="277" width="3" height="3" fill="#000" />
<rect x="256" y="278" width="1" height="1.5" fill="#fff" />
<rect x="229" y="280" width="3" height="3" fill="#000" />
<rect x="230" y="281" width="1" height="1.5" fill="#fff" />
<rect x="255" y="280" width="3" height="3" fill="#000" />
<rect x="256" y="281" width="1" height="1.5" fill="#fff" />
<rect x="229" y="284" width="3" height="3" fill="#000" />
<rect x="230" y="285" width="1" height="1.5" fill="#fff" />
<rect x="255" y="284" width="3" height="3" fill="#000" />
<rect x="256" y="285" width="1" height="1.5" fill="#fff" />
<rect x="229" y="287" width="3" height="3" fill="#000" />
<rect x="230" y="288" width="1" height="1.5" fill="#fff" />
<rect x="255" y="287" width="3" height="3" fill="#000" />
<rect x="256" y="288" width="1" height="1.5" fill="#fff" />
<rect x="212" y="81" width="17" height="75" rx="2" fill="#000"/>
<rect x="214" y="83" width="13" height="71" rx="1" fill="#fff"/>
<text transform="translate(219.50,92.3) scale(0.78,1)" text-anchor="middle" font-size="12.5" font-family="Liberation Sans, sans-serif" fill="#000" stroke="#000" stroke-width="0.2">B</text>
<text transform="translate(219.50,107.175) scale(0.78,1)" text-anchor="middle" font-size="12.5" font-family="Liberation Sans, sans-serif" fill="#000" stroke="#000" stroke-width="0.2">A</text>
<text transform="translate(219.50,122.05000000000001) scale(0.78,1)" text-anchor="middle" font-size="12.5" font-family="Liberation Sans, sans-serif" fill="#000" stroke="#000" stroke-width="0.2">N</text>
<text transform="translate(219.50,136.925) scale(0.78,1)" text-anchor="middle" font-size="12.5" font-family="Liberation Sans, sans-serif" fill="#000" stroke="#000" stroke-width="0.2">K</text>
<text transform="translate(219.50,151.8) scale(0.78,1)" text-anchor="middle" font-size="12.5" font-family="Liberation Sans, sans-serif" fill="#000" stroke="#000" stroke-width="0.2">0</text>
<rect x="212" y="200" width="17" height="75" rx="2" fill="#000"/>
<rect x="214" y="202" width="13" height="71" rx="1" fill="#fff"/>
<text transform="translate(219.50,211.3) scale(0.78,1)" text-anchor="middle" font-size="12.5" font-family="Liberation Sans, sans-serif" fill="#000" stroke="#000" stroke-width="0.2">B</text>
<text transform="translate(219.50,226.175) scale(0.78,1)" text-anchor="middle" font-size="12.5" font-family="Liberation Sans, sans-serif" fill="#000" stroke="#000" stroke-width="0.2">A</text>
<text transform="translate(219.50,241.05) scale(0.78,1)" text-anchor="middle" font-size="12.5" font-family="Liberation Sans, sans-serif" fill="#000" stroke="#000" stroke-width="0.2">N</text>
<text transform="translate(219.50,255.925) scale(0.78,1)" text-anchor="middle" font-size="12.5" font-family="Liberation Sans, sans-serif" fill="#000" stroke="#000" stroke-width="0.2">K</text>
<text transform="translate(219.50,270.8) scale(0.78,1)" text-anchor="middle" font-size="12.5" font-family="Liberation Sans, sans-serif" fill="#000" stroke="#000" stroke-width="0.2">1</text>
<rect x="292" y="57" width="43" height="88" fill="#000" />
<rect x="294" y="65" width="1" height="4" fill="#fff" />
<rect x="294" y="71" width="1" height="4" fill="#fff" />
<rect x="294" y="77" width="1" height="4" fill="#fff" />
<rect x="294" y="84" width="1" height="4" fill="#fff" />
<rect x="294" y="90" width="1" height="4" fill="#fff" />
<rect x="294" y="140" width="1" height="3.5" fill="#fff" />
<rect x="294" y="133" width="1" height="3.5" fill="#fff" />
<rect x="294" y="127" width="1" height="3.5" fill="#fff" />
<rect x="294" y="120" width="1" height="3.5" fill="#fff" />
<rect x="294" y="114" width="1" height="3.5" fill="#fff" />
<rect x="293" y="93" width="41" height="16" fill="#fff" />
<text transform="translate(313.00,106) scale(0.7,1)" text-anchor="middle" font-size="13.5" font-family="Liberation Sans, sans-serif" fill="#000" stroke="#000" stroke-width="0.2" font-weight="normal" textLength="40.86" lengthAdjust="spacing">BIOS</text>
<rect x="269" y="172" width="6" height="3" fill="#000" />
<rect x="279" y="172" width="6" height="3" fill="#000" />
<rect x="289" y="172" width="6" height="3" fill="#000" />
<rect x="299" y="172" width="6" height="3" fill="#000" />
<rect x="309" y="172" width="6" height="3" fill="#000" />
<rect x="319" y="172" width="6" height="3" fill="#000" />
<rect x="329" y="172" width="6" height="3" fill="#000" />
<rect x="339" y="172" width="6" height="3" fill="#000" />
<rect x="349" y="172" width="6" height="3" fill="#000" />
<rect x="359" y="172" width="4" height="3" fill="#000" />
<rect x="361" y="172" width="2" height="5" fill="#000" />
<rect x="361" y="180" width="2" height="6" fill="#000" />
<rect x="361" y="190" width="2" height="6" fill="#000" />
<rect x="361" y="200" width="2" height="6" fill="#000" />
<rect x="361" y="210" width="2" height="6" fill="#000" />
<rect x="361" y="220" width="2" height="6" fill="#000" />
<rect x="361" y="230" width="2" height="6" fill="#000" />
<rect x="361" y="240" width="2" height="6" fill="#000" />
<rect x="361" y="250" width="2" height="6" fill="#000" />
<rect x="361" y="260" width="2" height="6" fill="#000" />
<rect x="361" y="270" width="2" height="6" fill="#000" />
<rect x="361" y="280" width="2" height="6" fill="#000" />
<rect x="361" y="290" width="2" height="6" fill="#000" />
<rect x="361" y="300" width="2" height="6" fill="#000" />
<rect x="267" y="176" width="2" height="6" fill="#000" />
<rect x="267" y="186" width="2" height="6" fill="#000" />
<rect x="267" y="196" width="2" height="6" fill="#000" />
<rect x="267" y="206" width="2" height="6" fill="#000" />
<rect x="267" y="216" width="2" height="6" fill="#000" />
<rect x="267" y="226" width="2" height="6" fill="#000" />
<rect x="267" y="236" width="2" height="6" fill="#000" />
<rect x="267" y="246" width="2" height="6" fill="#000" />
<rect x="267" y="256" width="2" height="6" fill="#000" />
<rect x="267" y="266" width="2" height="6" fill="#000" />
<rect x="267" y="276" width="2" height="6" fill="#000" />
<rect x="267" y="286" width="2" height="6" fill="#000" />
<rect x="267" y="296" width="2" height="6" fill="#000" />
<rect x="267" y="306" width="2" height="4" fill="#000" />
<rect x="267" y="308" width="4" height="2" fill="#000" />
<rect x="275" y="308" width="6" height="2" fill="#000" />
<rect x="285" y="308" width="6" height="2" fill="#000" />
<rect x="295" y="308" width="6" height="2" fill="#000" />
<rect x="305" y="308" width="6" height="2" fill="#000" />
<rect x="315" y="308" width="6" height="2" fill="#000" />
<rect x="325" y="308" width="6" height="2" fill="#000" />
<rect x="335" y="308" width="6" height="2" fill="#000" />
<rect x="345" y="308" width="6" height="2" fill="#000" />
<rect x="355" y="308" width="6" height="2" fill="#000" />
<rect x="273" y="180" width="60" height="52" fill="#000" />
<rect x="275" y="182" width="4" height="5" fill="#fff" />
<rect x="275" y="226" width="4" height="5" fill="#fff" />
<rect x="281" y="182" width="4" height="5" fill="#fff" />
<rect x="281" y="226" width="4" height="5" fill="#fff" />
<rect x="286" y="182" width="4" height="5" fill="#fff" />
<rect x="286" y="226" width="4" height="5" fill="#fff" />
<rect x="292" y="182" width="4" height="5" fill="#fff" />
<rect x="292" y="226" width="4" height="5" fill="#fff" />
<rect x="298" y="182" width="4" height="5" fill="#fff" />
<rect x="298" y="226" width="4" height="5" fill="#fff" />
<rect x="303" y="182" width="4" height="5" fill="#fff" />
<rect x="303" y="226" width="4" height="5" fill="#fff" />
<rect x="309" y="182" width="4" height="5" fill="#fff" />
<rect x="309" y="226" width="4" height="5" fill="#fff" />
<rect x="315" y="182" width="4" height="5" fill="#fff" />
<rect x="315" y="226" width="4" height="5" fill="#fff" />
<rect x="320" y="182" width="4" height="5" fill="#fff" />
<rect x="320" y="226" width="4" height="5" fill="#fff" />
<rect x="326" y="182" width="4" height="5" fill="#fff" />
<rect x="326" y="226" width="4" height="5" fill="#fff" />
<rect x="279" y="190" width="22" height="5" fill="#fff" />
<rect x="306" y="190" width="21" height="5" fill="#fff" />
<rect x="279" y="218" width="22" height="5" fill="#fff" />
<rect x="306" y="218" width="21" height="5" fill="#fff" />
<rect x="276" y="199" width="55" height="14.5" rx="2" fill="#fff"/>
<text transform="translate(302.80,211) scale(0.7,1)" text-anchor="middle" font-size="13.5" font-family="Liberation Sans, sans-serif" fill="#000" stroke="#000" stroke-width="0.2" font-weight="normal" textLength="67.14" lengthAdjust="spacing">BANK 1</text>
<rect x="278" y="241" width="50" height="60" fill="#000" />
<rect x="279" y="238" width="3" height="3" fill="#000" />
<rect x="280" y="239" width="1" height="2" fill="#fff" />
<rect x="279" y="301" width="3" height="3" fill="#000" />
<rect x="280" y="301" width="1" height="2" fill="#fff" />
<rect x="283" y="238" width="3" height="3" fill="#000" />
<rect x="284" y="239" width="1" height="2" fill="#fff" />
<rect x="283" y="301" width="3" height="3" fill="#000" />
<rect x="284" y="301" width="1" height="2" fill="#fff" />
<rect x="286" y="238" width="3" height="3" fill="#000" />
<rect x="287" y="239" width="1" height="2" fill="#fff" />
<rect x="286" y="301" width="3" height="3" fill="#000" />
<rect x="287" y="301" width="1" height="2" fill="#fff" />
<rect x="290" y="238" width="3" height="3" fill="#000" />
<rect x="291" y="239" width="1" height="2" fill="#fff" />
<rect x="290" y="301" width="3" height="3" fill="#000" />
<rect x="291" y="301" width="1" height="2" fill="#fff" />
<rect x="294" y="238" width="3" height="3" fill="#000" />
<rect x="295" y="239" width="1" height="2" fill="#fff" />
<rect x="294" y="301" width="3" height="3" fill="#000" />
<rect x="295" y="301" width="1" height="2" fill="#fff" />
<rect x="309" y="238" width="3" height="3" fill="#000" />
<rect x="310" y="239" width="1" height="2" fill="#fff" />
<rect x="309" y="301" width="3" height="3" fill="#000" />
<rect x="310" y="301" width="1" height="2" fill="#fff" />
<rect x="313" y="238" width="3" height="3" fill="#000" />
<rect x="314" y="239" width="1" height="2" fill="#fff" />
<rect x="313" y="301" width="3" height="3" fill="#000" />
<rect x="314" y="301" width="1" height="2" fill="#fff" />
<rect x="316" y="238" width="3" height="3" fill="#000" />
<rect x="317" y="239" width="1" height="2" fill="#fff" />
<rect x="316" y="301" width="3" height="3" fill="#000" />
<rect x="317" y="301" width="1" height="2" fill="#fff" />
<rect x="320" y="238" width="3" height="3" fill="#000" />
<rect x="321" y="239" width="1" height="2" fill="#fff" />
<rect x="320" y="301" width="3" height="3" fill="#000" />
<rect x="321" y="301" width="1" height="2" fill="#fff" />
<rect x="324" y="238" width="3" height="3" fill="#000" />
<rect x="325" y="239" width="1" height="2" fill="#fff" />
<rect x="324" y="301" width="3" height="3" fill="#000" />
<rect x="325" y="301" width="1" height="2" fill="#fff" />
<rect x="273" y="261" width="59" height="18" rx="2" fill="#000"/>
<rect x="275" y="263" width="55" height="13" rx="1" fill="#fff"/>
<text transform="translate(302.95,275) scale(0.7,1)" text-anchor="middle" font-size="13.5" font-family="Liberation Sans, sans-serif" fill="#000" stroke="#000" stroke-width="0.2" font-weight="normal" textLength="67.00" lengthAdjust="spacing">BANK 0</text>
<rect x="337" y="206" width="18" height="67.5" rx="3" fill="#000"/>
<rect x="339" y="208" width="14" height="63.5" rx="1" fill="#fff"/>
<text transform="translate(345.80,221.2) scale(0.78,1)" text-anchor="middle" font-size="12.5" font-family="Liberation Sans, sans-serif" fill="#000" stroke="#000" stroke-width="0.2">V</text>
<text transform="translate(345.80,236.36666666666665) scale(0.78,1)" text-anchor="middle" font-size="12.5" font-family="Liberation Sans, sans-serif" fill="#000" stroke="#000" stroke-width="0.2">R</text>
<text transform="translate(345.80,251.53333333333333) scale(0.78,1)" text-anchor="middle" font-size="12.5" font-family="Liberation Sans, sans-serif" fill="#000" stroke="#000" stroke-width="0.2">A</text>
<text transform="translate(345.80,266.7) scale(0.78,1)" text-anchor="middle" font-size="12.5" font-family="Liberation Sans, sans-serif" fill="#000" stroke="#000" stroke-width="0.2">M</text>
<rect x="180" y="312" width="128" height="20" fill="#000" />
<rect x="187" y="319" width="113" height="6" fill="#fff" />
<rect x="318" y="312" width="202" height="20" fill="#000" />
<rect x="326" y="319" width="11" height="6" fill="#fff" />
<rect x="362" y="319" width="150" height="6" fill="#fff" />
<rect x="340" y="315" width="20" height="14" fill="#fff" />
<rect x="359" y="315" width="1" height="1" fill="#000" />
<text transform="translate(348.95,326) scale(0.7,1)" text-anchor="middle" font-size="13.5" font-family="Liberation Sans, sans-serif" fill="#000" stroke="#000" stroke-width="0.2" font-weight="normal" textLength="17.57" lengthAdjust="spacing">S1</text>
<text transform="translate(444.20,28) scale(0.8,1)" text-anchor="middle" font-size="11" font-family="Liberation Sans, sans-serif" fill="#000" stroke="#000" stroke-width="0.2" font-weight="normal" textLength="55.50" lengthAdjust="spacing">MH1535</text>
<rect x="402" y="40" width="39" height="76" fill="#000" />
<text transform="translate(422.7,78.8) rotate(90) scale(0.75,1)" text-anchor="middle" font-size="12.5" font-family="Liberation Sans, sans-serif" font-weight="bold" fill="#fff" stroke="#fff" stroke-width="0.4" textLength="86.7" lengthAdjust="spacing">REAL TIME</text>
<text transform="translate(410,79.5) rotate(90) scale(0.75,1)" text-anchor="middle" font-size="12.5" font-family="Liberation Sans, sans-serif" font-weight="bold" fill="#fff" stroke="#fff" stroke-width="0.4" textLength="53.3" lengthAdjust="spacing">CLOCK</text>
<rect x="447" y="40" width="43" height="126" fill="#000" />
<rect x="454" y="96" width="28" height="14" fill="#fff" />
<text transform="translate(467.95,107) scale(0.7,1)" text-anchor="middle" font-size="13.5" font-family="Liberation Sans, sans-serif" fill="#000" stroke="#000" stroke-width="0.2" font-weight="normal" textLength="35.29" lengthAdjust="spacing">KBD</text>
<rect x="495" y="40" width="7" height="19" fill="#000" />
<rect x="496" y="41" width="1" height="17" fill="#fff" />
<rect x="496" y="46" width="5" height="1" fill="#fff" />
<rect x="496" y="52" width="5" height="1" fill="#fff" />
<rect x="495" y="70" width="7" height="19" fill="#000" />
<rect x="496" y="71" width="1" height="17" fill="#fff" />
<rect x="496" y="76" width="5" height="1" fill="#fff" />
<rect x="496" y="82" width="5" height="1" fill="#fff" />
<rect x="519" y="40" width="42" height="19" rx="2" fill="#000"/>
<rect x="521" y="42" width="38" height="14" rx="1" fill="#fff"/>
<text transform="translate(540.80,52.8) scale(0.7,1)" text-anchor="middle" font-size="13.5" font-family="Liberation Sans, sans-serif" fill="#000" stroke="#000" stroke-width="0.2" font-weight="normal" textLength="50.29" lengthAdjust="spacing">JMRQ</text>
<polygon points="521.00,46.00 519.00,46.00 514.50,46.50 510.75,47.40 507.00,48.20 504.00,48.80 504.00,50.20 507.00,50.80 510.75,51.60 514.50,52.50 519.00,53.00 521.00,53.00" fill="#000"/>
<polygon points="521.50,48.50 516.60,48.50 516.00,49.00 516.00,50.00 516.60,50.50 521.50,50.50" fill="#fff"/>
<rect x="519" y="70" width="36" height="19" rx="2" fill="#000"/>
<rect x="521" y="72" width="32" height="14" rx="1" fill="#fff"/>
<text transform="translate(535.05,83.6) scale(0.7,1)" text-anchor="middle" font-size="13.5" font-family="Liberation Sans, sans-serif" fill="#000" stroke="#000" stroke-width="0.2" font-weight="normal" textLength="33.00" lengthAdjust="spacing">JVD</text>
<polygon points="521.00,76.00 519.00,76.00 514.50,76.50 510.75,77.40 507.00,78.20 504.00,78.80 504.00,80.20 507.00,80.80 510.75,81.60 514.50,82.50 519.00,83.00 521.00,83.00" fill="#000"/>
<polygon points="521.50,78.50 516.60,78.50 516.00,79.00 516.00,80.00 516.60,80.50 521.50,80.50" fill="#fff"/>
<rect x="571" y="21" width="41" height="39" fill="#000" />
<rect x="572" y="22" width="32" height="37" fill="#fff" />
<rect x="570" y="32" width="41" height="18.5" rx="2" fill="#000"/>
<rect x="573" y="34" width="37" height="13.5" rx="1.5" fill="#fff"/>
<text transform="translate(591.35,45.7) scale(0.7,1)" text-anchor="middle" font-size="13.5" font-family="Liberation Sans, sans-serif" fill="#000" stroke="#000" stroke-width="0.2" font-weight="normal" textLength="45.57" lengthAdjust="spacing">JPKB</text>
<rect x="571" y="67" width="41" height="40" fill="#000" />
<rect x="572" y="68" width="32" height="38" fill="#fff" />
<rect x="570" y="78" width="41" height="18.5" rx="2" fill="#000"/>
<rect x="573" y="80" width="37" height="13.5" rx="1.5" fill="#fff"/>
<text transform="translate(592.40,92) scale(0.7,1)" text-anchor="middle" font-size="13.5" font-family="Liberation Sans, sans-serif" fill="#000" stroke="#000" stroke-width="0.2" font-weight="normal" textLength="48.00" lengthAdjust="spacing">JPMS</text>
<rect x="368" y="133" width="49" height="19" rx="2" fill="#000"/>
<rect x="370" y="135" width="45" height="14" rx="1" fill="#fff"/>
<text transform="translate(390.35,147) scale(0.7,1)" text-anchor="middle" font-size="13.5" font-family="Liberation Sans, sans-serif" fill="#000" stroke="#000" stroke-width="0.2" font-weight="normal" textLength="51.00" lengthAdjust="spacing">JINLC</text>
<polygon points="415.00,138.50 417.00,138.50 421.80,139.00 425.80,139.90 429.80,140.70 433.00,141.30 433.00,142.70 429.80,143.30 425.80,144.10 421.80,145.00 417.00,145.50 415.00,145.50" fill="#000"/>
<polygon points="414.50,141.00 419.56,141.00 420.20,141.50 420.20,142.50 419.56,143.00 414.50,143.00" fill="#fff"/>
<rect x="434" y="135" width="7" height="14" fill="#000" />
<rect x="435.5" y="136" width="4.0" height="1.5" fill="#fff" />
<rect x="435.5" y="142" width="4.0" height="1" fill="#fff" />
<rect x="435.5" y="147" width="4.0" height="1" fill="#fff" />
<path d="M400,163 L442,163 L442,165 L446,165 L446,208 L444,208 L444,212 L438,212 L438,217 L395,217 L395,213 L391,213 L391,171 L394,167 L396,165 L399,164 Z" fill="#000"/>
<rect x="378" y="234" width="60" height="60" fill="#000" />
<rect x="379" y="231" width="56" height="3" fill="#000" />
<rect x="438" y="235" width="3" height="56" fill="#000" />
<rect x="381" y="294" width="56" height="3" fill="#000" />
<rect x="375" y="237" width="3" height="56" fill="#000" />
<rect x="384" y="231" width="1" height="2" fill="#fff" />
<rect x="386" y="231" width="1" height="2" fill="#fff" />
<rect x="397" y="231" width="1" height="2" fill="#fff" />
<rect x="399" y="231" width="1" height="2" fill="#fff" />
<rect x="401" y="231" width="1" height="2" fill="#fff" />
<rect x="413" y="231" width="1" height="2" fill="#fff" />
<rect x="415" y="231" width="1" height="2" fill="#fff" />
<rect x="425" y="231" width="1" height="2" fill="#fff" />
<rect x="427" y="231" width="1" height="2" fill="#fff" />
<rect x="439" y="242" width="2" height="1" fill="#fff" />
<rect x="439" y="244" width="2" height="1" fill="#fff" />
<rect x="439" y="246" width="2" height="1" fill="#fff" />
<rect x="439" y="255" width="2" height="1" fill="#fff" />
<rect x="439" y="257" width="2" height="1" fill="#fff" />
<rect x="439" y="265" width="2" height="1" fill="#fff" />
<rect x="439" y="267" width="2" height="1" fill="#fff" />
<rect x="439" y="269" width="2" height="1" fill="#fff" />
<rect x="439" y="281" width="2" height="1" fill="#fff" />
<rect x="439" y="283" width="2" height="1" fill="#fff" />
<rect x="439" y="285" width="2" height="1" fill="#fff" />
<rect x="386" y="295" width="1" height="2" fill="#fff" />
<rect x="388" y="295" width="1" height="2" fill="#fff" />
<rect x="397" y="295" width="1" height="2" fill="#fff" />
<rect x="399" y="295" width="1" height="2" fill="#fff" />
<rect x="412" y="295" width="1" height="2" fill="#fff" />
<rect x="414" y="295" width="1" height="2" fill="#fff" />
<rect x="416" y="295" width="1" height="2" fill="#fff" />
<rect x="425" y="295" width="1" height="2" fill="#fff" />
<rect x="427" y="295" width="1" height="2" fill="#fff" />
<rect x="375" y="244" width="2" height="1" fill="#fff" />
<rect x="375" y="246" width="2" height="1" fill="#fff" />
<rect x="375" y="253" width="2" height="1" fill="#fff" />
<rect x="375" y="255" width="2" height="1" fill="#fff" />
<rect x="375" y="266" width="2" height="1" fill="#fff" />
<rect x="375" y="268" width="2" height="1" fill="#fff" />
<rect x="375" y="279" width="2" height="1" fill="#fff" />
<rect x="375" y="281" width="2" height="1" fill="#fff" />
<rect x="375" y="283" width="2" height="1" fill="#fff" />
<rect x="195" y="357" width="60" height="60" fill="#000" />
<rect x="196" y="354" width="56" height="3" fill="#000" />
<rect x="255" y="358" width="3" height="56" fill="#000" />
<rect x="198" y="417" width="56" height="3" fill="#000" />
<rect x="192" y="360" width="3" height="56" fill="#000" />
<rect x="202" y="354" width="1" height="2" fill="#fff" />
<rect x="204" y="354" width="1" height="2" fill="#fff" />
<rect x="216" y="354" width="1" height="2" fill="#fff" />
<rect x="218" y="354" width="1" height="2" fill="#fff" />
<rect x="225" y="354" width="1" height="2" fill="#fff" />
<rect x="227" y="354" width="1" height="2" fill="#fff" />
<rect x="240" y="354" width="1" height="2" fill="#fff" />
<rect x="242" y="354" width="1" height="2" fill="#fff" />
<rect x="256" y="366" width="2" height="1" fill="#fff" />
<rect x="256" y="368" width="2" height="1" fill="#fff" />
<rect x="256" y="374" width="2" height="1" fill="#fff" />
<rect x="256" y="376" width="2" height="1" fill="#fff" />
<rect x="256" y="390" width="2" height="1" fill="#fff" />
<rect x="256" y="392" width="2" height="1" fill="#fff" />
<rect x="256" y="394" width="2" height="1" fill="#fff" />
<rect x="256" y="400" width="2" height="1" fill="#fff" />
<rect x="256" y="402" width="2" height="1" fill="#fff" />
<rect x="200" y="418" width="1" height="2" fill="#fff" />
<rect x="202" y="418" width="1" height="2" fill="#fff" />
<rect x="204" y="418" width="1" height="2" fill="#fff" />
<rect x="212" y="418" width="1" height="2" fill="#fff" />
<rect x="214" y="418" width="1" height="2" fill="#fff" />
<rect x="226" y="418" width="1" height="2" fill="#fff" />
<rect x="228" y="418" width="1" height="2" fill="#fff" />
<rect x="242" y="418" width="1" height="2" fill="#fff" />
<rect x="244" y="418" width="1" height="2" fill="#fff" />
<rect x="246" y="418" width="1" height="2" fill="#fff" />
<rect x="192" y="362" width="2" height="1" fill="#fff" />
<rect x="192" y="364" width="2" height="1" fill="#fff" />
<rect x="192" y="374" width="2" height="1" fill="#fff" />
<rect x="192" y="376" width="2" height="1" fill="#fff" />
<rect x="192" y="389" width="2" height="1" fill="#fff" />
<rect x="192" y="391" width="2" height="1" fill="#fff" />
<rect x="192" y="393" width="2" height="1" fill="#fff" />
<rect x="192" y="400" width="2" height="1" fill="#fff" />
<rect x="192" y="402" width="2" height="1" fill="#fff" />
<rect x="417" y="408" width="60" height="37" fill="#000" />
<rect x="418" y="405" width="56" height="3" fill="#000" />
<rect x="477" y="409" width="3" height="33" fill="#000" />
<rect x="420" y="445" width="56" height="3" fill="#000" />
<rect x="414" y="411" width="3" height="33" fill="#000" />
<rect x="425" y="405" width="1" height="2" fill="#fff" />
<rect x="427" y="405" width="1" height="2" fill="#fff" />
<rect x="429" y="405" width="1" height="2" fill="#fff" />
<rect x="438" y="405" width="1" height="2" fill="#fff" />
<rect x="440" y="405" width="1" height="2" fill="#fff" />
<rect x="448" y="405" width="1" height="2" fill="#fff" />
<rect x="450" y="405" width="1" height="2" fill="#fff" />
<rect x="452" y="405" width="1" height="2" fill="#fff" />
<rect x="464" y="405" width="1" height="2" fill="#fff" />
<rect x="466" y="405" width="1" height="2" fill="#fff" />
<rect x="478" y="413" width="2" height="1" fill="#fff" />
<rect x="478" y="415" width="2" height="1" fill="#fff" />
<rect x="478" y="417" width="2" height="1" fill="#fff" />
<rect x="478" y="424" width="2" height="1" fill="#fff" />
<rect x="478" y="426" width="2" height="1" fill="#fff" />
<rect x="478" y="431" width="2" height="1" fill="#fff" />
<rect x="478" y="433" width="2" height="1" fill="#fff" />
<rect x="426" y="446" width="1" height="2" fill="#fff" />
<rect x="428" y="446" width="1" height="2" fill="#fff" />
<rect x="430" y="446" width="1" height="2" fill="#fff" />
<rect x="438" y="446" width="1" height="2" fill="#fff" />
<rect x="440" y="446" width="1" height="2" fill="#fff" />
<rect x="451" y="446" width="1" height="2" fill="#fff" />
<rect x="453" y="446" width="1" height="2" fill="#fff" />
<rect x="464" y="446" width="1" height="2" fill="#fff" />
<rect x="466" y="446" width="1" height="2" fill="#fff" />
<rect x="414" y="413" width="2" height="1" fill="#fff" />
<rect x="414" y="415" width="2" height="1" fill="#fff" />
<rect x="414" y="423" width="2" height="1" fill="#fff" />
<rect x="414" y="425" width="2" height="1" fill="#fff" />
<rect x="414" y="435" width="2" height="1" fill="#fff" />
<rect x="414" y="437" width="2" height="1" fill="#fff" />
<rect x="455" y="276" width="7" height="20" fill="#000" />
<rect x="457" y="277" width="3" height="5" fill="#fff" />
<rect x="457" y="283" width="3" height="5" fill="#fff" />
<rect x="457" y="289" width="3" height="5" fill="#fff" />
<rect x="479" y="277" width="59" height="18" rx="2" fill="#000"/>
<rect x="481" y="279" width="55" height="13" rx="1" fill="#fff"/>
<text transform="translate(507.70,290) scale(0.7,1)" text-anchor="middle" font-size="13.5" font-family="Liberation Sans, sans-serif" fill="#000" stroke="#000" stroke-width="0.2" font-weight="normal" textLength="59.14" lengthAdjust="spacing">JVGAS</text>
<polygon points="481.00,282.50 479.00,282.50 474.50,283.00 470.75,283.90 467.00,284.70 464.00,285.30 464.00,286.70 467.00,287.30 470.75,288.10 474.50,289.00 479.00,289.50 481.00,289.50" fill="#000"/>
<polygon points="481.50,285.00 476.60,285.00 476.00,285.50 476.00,286.50 476.60,287.00 481.50,287.00" fill="#fff"/>
<rect x="604" y="114" width="7" height="68" fill="#000" />
<rect x="576" y="125" width="35" height="45" fill="#000" />
<rect x="611.5" y="126.5" width="15.5" height="38" fill="#fff" stroke="#000"/>
<rect x="602.5" y="117.5" width="18" height="5.5" fill="#fff" stroke="#000"/>
<rect x="604" y="117" width="7" height="6.5" fill="#000" />
<rect x="611" y="117" width="1" height="6.5" fill="#000" />
<rect x="602.5" y="172.5" width="18" height="5.5" fill="#fff" stroke="#000"/>
<rect x="604" y="172" width="7" height="6.5" fill="#000" />
<rect x="611" y="172" width="1" height="6.5" fill="#000" />
<rect x="581" y="139" width="42" height="18" rx="2" fill="#000"/>
<rect x="583" y="141" width="38" height="13" rx="1" fill="#fff"/>
<text transform="translate(601.35,151.7) scale(0.7,1)" text-anchor="middle" font-size="13.5" font-family="Liberation Sans, sans-serif" fill="#000" stroke="#000" stroke-width="0.2" font-weight="normal" textLength="47.57" lengthAdjust="spacing">JVGA</text>
<rect x="602" y="191" width="4" height="98" fill="#000" />
<rect x="608" y="191" width="1" height="98" fill="#000" />
<rect x="578" y="200" width="28" height="80" fill="#000" />
<rect x="609.5" y="200.5" width="12" height="79" fill="#fff" stroke="#000"/>
<rect x="598.5" y="192.5" width="18" height="5.5" fill="#fff" stroke="#000"/>
<rect x="602" y="192" width="4" height="6.5" fill="#000" />
<rect x="608" y="192" width="1" height="6.5" fill="#000" />
<rect x="598.5" y="282.5" width="18" height="5.5" fill="#fff" stroke="#000"/>
<rect x="602" y="282" width="4" height="6.5" fill="#000" />
<rect x="608" y="282" width="1" height="6.5" fill="#000" />
<rect x="580" y="231" width="42" height="18" rx="2" fill="#000"/>
<rect x="582" y="233" width="38" height="13" rx="1" fill="#fff"/>
<text transform="translate(599.90,243.4) scale(0.7,1)" text-anchor="middle" font-size="13.5" font-family="Liberation Sans, sans-serif" fill="#000" stroke="#000" stroke-width="0.2" font-weight="normal" textLength="49.43" lengthAdjust="spacing">JGAM</text>
<rect x="602" y="300" width="4" height="112" fill="#000" />
<rect x="608" y="300" width="1" height="112" fill="#000" />
<rect x="578" y="311" width="28" height="92" fill="#000" />
<rect x="609.5" y="311.5" width="12" height="91" fill="#fff" stroke="#000"/>
<rect x="598.5" y="303.0" width="18" height="5.5" fill="#fff" stroke="#000"/>
<rect x="602" y="302.5" width="4" height="6.5" fill="#000" />
<rect x="608" y="302.5" width="1" height="6.5" fill="#000" />
<rect x="598.5" y="405.0" width="18" height="5.5" fill="#fff" stroke="#000"/>
<rect x="602" y="404.5" width="4" height="6.5" fill="#000" />
<rect x="608" y="404.5" width="1" height="6.5" fill="#000" />
<rect x="580" y="347" width="42" height="20" rx="2" fill="#000"/>
<rect x="582" y="349" width="38" height="15" rx="1" fill="#fff"/>
<text transform="translate(599.90,360.8) scale(0.7,1)" text-anchor="middle" font-size="13.5" font-family="Liberation Sans, sans-serif" fill="#000" stroke="#000" stroke-width="0.2" font-weight="normal" textLength="43.43" lengthAdjust="spacing">JLPT</text>
<rect x="604" y="424" width="7" height="67" fill="#000" />
<rect x="576" y="434" width="35" height="46" fill="#000" />
<rect x="611.5" y="436.5" width="14.5" height="37" fill="#fff" stroke="#000"/>
<rect x="602.5" y="427.5" width="18" height="5.5" fill="#fff" stroke="#000"/>
<rect x="604" y="427" width="7" height="6.5" fill="#000" />
<rect x="611" y="427" width="1" height="6.5" fill="#000" />
<rect x="602.5" y="481.5" width="18" height="5.5" fill="#fff" stroke="#000"/>
<rect x="604" y="481" width="7" height="6.5" fill="#000" />
<rect x="611" y="481" width="1" height="6.5" fill="#000" />
<rect x="577" y="449" width="50" height="19" rx="2" fill="#000"/>
<rect x="579" y="451" width="46" height="14" rx="1" fill="#fff"/>
<text transform="translate(601.50,461.8) scale(0.7,1)" text-anchor="middle" font-size="13.5" font-family="Liberation Sans, sans-serif" fill="#000" stroke="#000" stroke-width="0.2" font-weight="normal" textLength="62.00" lengthAdjust="spacing">JCOM2</text>
<circle cx="61.5" cy="322.4" r="14.6" fill="#000"/><circle cx="61.8" cy="322.3" r="3" fill="#fff"/>
<rect x="83" y="346" width="61" height="60" fill="#000" />
<rect x="85" y="348" width="57" height="56" fill="#fff" />
<rect x="136" y="346" width="8" height="7" fill="#000" />
<rect x="83" y="398" width="8" height="8" fill="#000" />
<rect x="83" y="346" width="8" height="7" fill="#000" />
<rect x="93" y="348" width="1" height="4" fill="#000" />
<rect x="93" y="400" width="1" height="4" fill="#000" />
<rect x="113" y="348" width="1" height="4" fill="#000" />
<rect x="113" y="400" width="1" height="4" fill="#000" />
<rect x="122" y="348" width="1" height="4" fill="#000" />
<rect x="122" y="400" width="1" height="4" fill="#000" />
<rect x="131" y="348" width="1" height="4" fill="#000" />
<rect x="131" y="400" width="1" height="4" fill="#000" />
<rect x="85" y="364" width="5" height="1" fill="#000" />
<rect x="85" y="394" width="5" height="1" fill="#000" />
<rect x="137" y="371" width="5" height="1" fill="#000" />
<rect x="137" y="378" width="5" height="1" fill="#000" />
<rect x="137" y="389" width="5" height="1" fill="#000" />
<rect x="136" y="398" width="7" height="7" fill="#000" />
<polygon points="139.50,406.50 144.50,406.50 144.50,401.50" fill="#fff"/>
<polygon points="142.00,401.50 144.00,401.50 140.00,405.50 140.00,404.00" fill="#000"/>
<polygon points="139.20,398.80 141.60,401.20 139.20,403.60 136.80,401.20" fill="#fff"/>
<rect x="97" y="367" width="33" height="18" rx="4" fill="#000"/>
<rect x="99" y="369" width="29" height="13" rx="1" fill="#fff"/>
<text transform="translate(113.30,379.9) scale(0.7,1)" text-anchor="middle" font-size="13.5" font-family="Liberation Sans, sans-serif" fill="#000" stroke="#000" stroke-width="0.2" font-weight="normal" textLength="37.14" lengthAdjust="spacing">NPU</text>
<rect x="29" y="352" width="7" height="26" fill="#000" />
<rect x="30" y="353" width="5" height="4" fill="#fff" />
<rect x="31" y="354" width="3" height="2" fill="#000" />
<rect x="30" y="358" width="5" height="2" fill="#fff" />
<rect x="30" y="364" width="5" height="1" fill="#fff" />
<rect x="30" y="370" width="5" height="1" fill="#fff" />
<rect x="30" y="375" width="5" height="1" fill="#fff" />
<rect x="46" y="340" width="41" height="19" rx="2" fill="#000"/>
<rect x="48" y="342" width="37" height="14" rx="1" fill="#fff"/>
<text transform="translate(65.95,353.7) scale(0.7,1)" text-anchor="middle" font-size="13.5" font-family="Liberation Sans, sans-serif" fill="#000" stroke="#000" stroke-width="0.2" font-weight="normal" textLength="47.86" lengthAdjust="spacing">JSPK</text>
<polygon points="46.00,356.00 51.00,356.00 40.00,367.50 38.00,366.50" fill="#000"/>
<rect x="65" y="366" width="7" height="19" fill="#000" />
<rect x="66" y="367" width="5" height="1" fill="#fff" />
<rect x="66" y="373" width="5" height="1" fill="#fff" />
<rect x="66" y="378" width="5" height="1" fill="#fff" />
<rect x="6" y="386" width="48" height="18" rx="2" fill="#000"/>
<rect x="8" y="388" width="44" height="13" rx="1" fill="#fff"/>
<text transform="translate(28.30,398.7) scale(0.7,1)" text-anchor="middle" font-size="13.5" font-family="Liberation Sans, sans-serif" fill="#000" stroke="#000" stroke-width="0.2" font-weight="normal" textLength="58.00" lengthAdjust="spacing">JSPKS</text>
<polygon points="48.00,388.50 53.00,388.50 64.50,376.00 62.50,375.00" fill="#000"/>
<rect x="166" y="376" width="7" height="14" fill="#000" />
<rect x="167.5" y="378" width="4.0" height="1" fill="#fff" />
<rect x="167.5" y="383" width="4.0" height="1" fill="#fff" />
<rect x="167.5" y="388" width="4.0" height="1" fill="#fff" />
<rect x="148" y="410" width="43" height="19" rx="2" fill="#000"/>
<rect x="150" y="412" width="39" height="14" rx="1" fill="#fff"/>
<text transform="translate(168.25,423) scale(0.7,1)" text-anchor="middle" font-size="13.5" font-family="Liberation Sans, sans-serif" fill="#000" stroke="#000" stroke-width="0.2" font-weight="normal" textLength="38.71" lengthAdjust="spacing">JPIP</text>
<polygon points="165.60,412.00 165.60,410.00 166.10,404.60 167.00,400.10 167.80,395.60 168.40,392.00 169.80,392.00 170.40,395.60 171.20,400.10 172.10,404.60 172.60,410.00 172.60,412.00" fill="#000"/>
<polygon points="168.10,412.50 168.10,407.12 168.60,406.40 169.60,406.40 170.10,407.12 170.10,412.50" fill="#fff"/>
<rect x="137" y="460" width="45" height="44" fill="#000" />
<rect x="140" y="456" width="1" height="4" fill="#000" />
<rect x="140" y="504" width="1" height="5" fill="#000" />
<rect x="132" y="463" width="5" height="1" fill="#000" />
<rect x="182" y="463" width="5" height="1" fill="#000" />
<rect x="143" y="456" width="1" height="4" fill="#000" />
<rect x="143" y="504" width="1" height="5" fill="#000" />
<rect x="132" y="466" width="5" height="1" fill="#000" />
<rect x="182" y="466" width="5" height="1" fill="#000" />
<rect x="145" y="456" width="1" height="4" fill="#000" />
<rect x="145" y="504" width="1" height="5" fill="#000" />
<rect x="132" y="468" width="5" height="1" fill="#000" />
<rect x="182" y="468" width="5" height="1" fill="#000" />
<rect x="148" y="456" width="1" height="4" fill="#000" />
<rect x="148" y="504" width="1" height="5" fill="#000" />
<rect x="132" y="471" width="5" height="1" fill="#000" />
<rect x="182" y="471" width="5" height="1" fill="#000" />
<rect x="151" y="456" width="1" height="4" fill="#000" />
<rect x="151" y="504" width="1" height="5" fill="#000" />
<rect x="132" y="474" width="5" height="1" fill="#000" />
<rect x="182" y="474" width="5" height="1" fill="#000" />
<rect x="153" y="456" width="1" height="4" fill="#000" />
<rect x="153" y="504" width="1" height="5" fill="#000" />
<rect x="132" y="476" width="5" height="1" fill="#000" />
<rect x="182" y="476" width="5" height="1" fill="#000" />
<rect x="156" y="456" width="1" height="4" fill="#000" />
<rect x="156" y="504" width="1" height="5" fill="#000" />
<rect x="132" y="479" width="5" height="1" fill="#000" />
<rect x="182" y="479" width="5" height="1" fill="#000" />
<rect x="159" y="456" width="1" height="4" fill="#000" />
<rect x="159" y="504" width="1" height="5" fill="#000" />
<rect x="132" y="482" width="5" height="1" fill="#000" />
<rect x="182" y="482" width="5" height="1" fill="#000" />
<rect x="161" y="456" width="1" height="4" fill="#000" />
<rect x="161" y="504" width="1" height="5" fill="#000" />
<rect x="132" y="484" width="5" height="1" fill="#000" />
<rect x="182" y="484" width="5" height="1" fill="#000" />
<rect x="164" y="456" width="1" height="4" fill="#000" />
<rect x="164" y="504" width="1" height="5" fill="#000" />
<rect x="132" y="487" width="5" height="1" fill="#000" />
<rect x="182" y="487" width="5" height="1" fill="#000" />
<rect x="166" y="456" width="1" height="4" fill="#000" />
<rect x="166" y="504" width="1" height="5" fill="#000" />
<rect x="132" y="490" width="5" height="1" fill="#000" />
<rect x="182" y="490" width="5" height="1" fill="#000" />
<rect x="169" y="456" width="1" height="4" fill="#000" />
<rect x="169" y="504" width="1" height="5" fill="#000" />
<rect x="132" y="492" width="5" height="1" fill="#000" />
<rect x="182" y="492" width="5" height="1" fill="#000" />
<rect x="172" y="456" width="1" height="4" fill="#000" />
<rect x="172" y="504" width="1" height="5" fill="#000" />
<rect x="132" y="495" width="5" height="1" fill="#000" />
<rect x="182" y="495" width="5" height="1" fill="#000" />
<rect x="174" y="456" width="1" height="4" fill="#000" />
<rect x="174" y="504" width="1" height="5" fill="#000" />
<rect x="132" y="497" width="5" height="1" fill="#000" />
<rect x="182" y="497" width="5" height="1" fill="#000" />
<rect x="177" y="456" width="1" height="4" fill="#000" />
<rect x="177" y="504" width="1" height="5" fill="#000" />
<rect x="132" y="500" width="5" height="1" fill="#000" />
<rect x="182" y="500" width="5" height="1" fill="#000" />
<line x1="136.5" y1="459.5" x2="133.8" y2="456.8" stroke="#000" stroke-width="3.6" stroke-linecap="round"/>
<line x1="182.5" y1="459.5" x2="185.2" y2="456.8" stroke="#000" stroke-width="3.6" stroke-linecap="round"/>
<line x1="136.5" y1="504.5" x2="133.8" y2="507.2" stroke="#000" stroke-width="3.6" stroke-linecap="round"/>
<line x1="182.5" y1="504.5" x2="185.2" y2="507.2" stroke="#000" stroke-width="3.6" stroke-linecap="round"/>
<rect x="145" y="476" width="29" height="14" fill="#fff" />
<text transform="translate(159.20,487) scale(0.7,1)" text-anchor="middle" font-size="13.5" font-family="Liberation Sans, sans-serif" fill="#000" stroke="#000" stroke-width="0.2" font-weight="normal" textLength="38.57" lengthAdjust="spacing">CPU</text>
<rect x="272" y="380" width="41" height="19" rx="2" fill="#000"/>
<rect x="274" y="382" width="37" height="14" rx="1" fill="#fff"/>
<text transform="translate(292.20,393.2) scale(0.7,1)" text-anchor="middle" font-size="13.5" font-family="Liberation Sans, sans-serif" fill="#000" stroke="#000" stroke-width="0.2" font-weight="normal" textLength="48.86" lengthAdjust="spacing">JLRQ</text>
<polygon points="311.00,385.50 313.00,385.50 317.50,386.00 321.25,386.90 325.00,387.70 328.00,388.30 328.00,389.70 325.00,390.30 321.25,391.10 317.50,392.00 313.00,392.50 311.00,392.50" fill="#000"/>
<polygon points="310.50,388.00 315.40,388.00 316.00,388.50 316.00,389.50 315.40,390.00 310.50,390.00" fill="#fff"/>
<rect x="329" y="380" width="7" height="19" fill="#000" />
<rect x="330.5" y="381" width="4.0" height="1" fill="#fff" />
<rect x="330.5" y="386" width="4.0" height="2" fill="#fff" />
<rect x="330.5" y="392" width="4.0" height="1" fill="#fff" />
<rect x="272" y="408" width="41" height="19" rx="2" fill="#000"/>
<rect x="274" y="410" width="37" height="14" rx="1" fill="#fff"/>
<text transform="translate(292.30,421.7) scale(0.7,1)" text-anchor="middle" font-size="13.5" font-family="Liberation Sans, sans-serif" fill="#000" stroke="#000" stroke-width="0.2" font-weight="normal" textLength="42.00" lengthAdjust="spacing">JC 13</text>
<polygon points="311.00,413.50 313.00,413.50 317.50,414.00 321.25,414.90 325.00,415.70 328.00,416.30 328.00,417.70 325.00,418.30 321.25,419.10 317.50,420.00 313.00,420.50 311.00,420.50" fill="#000"/>
<polygon points="310.50,416.00 315.40,416.00 316.00,416.50 316.00,417.50 315.40,418.00 310.50,418.00" fill="#fff"/>
<rect x="329" y="408" width="7" height="19" fill="#000" />
<rect x="330.5" y="409" width="4.0" height="1" fill="#fff" />
<rect x="330.5" y="414" width="4.0" height="2" fill="#fff" />
<rect x="330.5" y="420" width="4.0" height="1" fill="#fff" />
<rect x="272" y="436" width="41" height="19" rx="2" fill="#000"/>
<rect x="274" y="438" width="37" height="14" rx="1" fill="#fff"/>
<text transform="translate(291.45,448.8) scale(0.7,1)" text-anchor="middle" font-size="13.5" font-family="Liberation Sans, sans-serif" fill="#000" stroke="#000" stroke-width="0.2" font-weight="normal" textLength="48.43" lengthAdjust="spacing">JHDC</text>
<polygon points="311.00,441.50 313.00,441.50 317.50,442.00 321.25,442.90 325.00,443.70 328.00,444.30 328.00,445.70 325.00,446.30 321.25,447.10 317.50,448.00 313.00,448.50 311.00,448.50" fill="#000"/>
<polygon points="310.50,444.00 315.40,444.00 316.00,444.50 316.00,445.50 315.40,446.00 310.50,446.00" fill="#fff"/>
<rect x="329" y="436" width="7" height="19" fill="#000" />
<rect x="330.5" y="437" width="4.0" height="1" fill="#fff" />
<rect x="330.5" y="442" width="4.0" height="2" fill="#fff" />
<rect x="330.5" y="448" width="4.0" height="1" fill="#fff" />
<rect x="339" y="404" width="12" height="61" fill="#000" />
<rect x="340" y="405" width="10" height="1" fill="#fff" />
<rect x="340" y="411" width="10" height="1" fill="#fff" />
<rect x="340" y="417" width="10" height="1" fill="#fff" />
<rect x="340" y="422" width="10" height="1" fill="#fff" />
<rect x="340" y="428" width="10" height="1" fill="#fff" />
<rect x="340" y="434" width="10" height="1" fill="#fff" />
<rect x="340" y="440" width="10" height="1" fill="#fff" />
<rect x="340" y="446" width="10" height="1" fill="#fff" />
<rect x="340" y="451" width="10" height="1" fill="#fff" />
<rect x="340" y="457" width="10" height="1" fill="#fff" />
<rect x="340" y="463" width="10" height="1" fill="#fff" />
<rect x="341" y="407" width="3" height="3" fill="#fff" />
<rect x="368" y="425" width="41" height="19" rx="2" fill="#000"/>
<rect x="370" y="427" width="37" height="14" rx="1" fill="#fff"/>
<text transform="translate(387.80,438.4) scale(0.7,1)" text-anchor="middle" font-size="13.5" font-family="Liberation Sans, sans-serif" fill="#000" stroke="#000" stroke-width="0.2" font-weight="normal" textLength="53.14" lengthAdjust="spacing">JMOD</text>
<polygon points="369.50,430.50 367.50,430.50 362.55,431.00 358.43,431.90 354.30,432.70 351.00,433.30 351.00,434.70 354.30,435.30 358.43,436.10 362.55,437.00 367.50,437.50 369.50,437.50" fill="#000"/>
<polygon points="370.00,433.00 364.86,433.00 364.20,433.50 364.20,434.50 364.86,435.00 370.00,435.00" fill="#fff"/>
<text transform="translate(354.85,410) scale(1,1)" text-anchor="middle" font-size="11" font-family="Liberation Sans, sans-serif" fill="#000" stroke="#000" stroke-width="0.2" font-weight="normal" textLength="6.70" lengthAdjust="spacing">2</text>
<text transform="translate(330.45,467.3) scale(1,1)" text-anchor="middle" font-size="11" font-family="Liberation Sans, sans-serif" fill="#000" stroke="#000" stroke-width="0.2" font-weight="normal" textLength="13.50" lengthAdjust="spacing">19</text>
<text transform="translate(358.20,467.3) scale(1,1)" text-anchor="middle" font-size="11" font-family="Liberation Sans, sans-serif" fill="#000" stroke="#000" stroke-width="0.2" font-weight="normal" textLength="13.40" lengthAdjust="spacing">20</text>
<rect x="460" y="380" width="42" height="19" rx="2" fill="#000"/>
<rect x="462" y="382" width="38" height="14" rx="1" fill="#fff"/>
<text transform="translate(479.90,394.2) scale(0.7,1)" text-anchor="middle" font-size="13.5" font-family="Liberation Sans, sans-serif" fill="#000" stroke="#000" stroke-width="0.2" font-weight="normal" textLength="43.71" lengthAdjust="spacing">JLPS</text>
<polygon points="499.50,385.50 501.50,385.50 506.75,386.00 511.12,386.90 515.50,387.70 519.00,388.30 519.00,389.70 515.50,390.30 511.12,391.10 506.75,392.00 501.50,392.50 499.50,392.50" fill="#000"/>
<polygon points="499.00,388.00 504.30,388.00 505.00,388.50 505.00,389.50 504.30,390.00 499.00,390.00" fill="#fff"/>
<rect x="521" y="380" width="6" height="19" fill="#000" />
<rect x="522.5" y="381" width="3.5" height="1" fill="#fff" />
<rect x="522.5" y="386" width="3.5" height="1" fill="#fff" />
<rect x="522.5" y="391" width="3.5" height="1" fill="#fff" />
<rect x="442" y="408" width="60" height="18" rx="2" fill="#000"/>
<rect x="444" y="410" width="56" height="13" rx="1" fill="#fff"/>
<text transform="translate(470.15,422.2) scale(0.7,1)" text-anchor="middle" font-size="13.5" font-family="Liberation Sans, sans-serif" fill="#000" stroke="#000" stroke-width="0.2" font-weight="normal" textLength="62.71" lengthAdjust="spacing">JGAMS</text>
<polygon points="499.50,413.50 501.50,413.50 506.75,414.00 511.12,414.90 515.50,415.70 519.00,416.30 519.00,417.70 515.50,418.30 511.12,419.10 506.75,420.00 501.50,420.50 499.50,420.50" fill="#000"/>
<polygon points="499.00,416.00 504.30,416.00 505.00,416.50 505.00,417.50 504.30,418.00 499.00,418.00" fill="#fff"/>
<rect x="521" y="408" width="6" height="19" fill="#000" />
<rect x="522.5" y="409" width="3.5" height="1" fill="#fff" />
<rect x="522.5" y="414" width="3.5" height="1" fill="#fff" />
<rect x="522.5" y="419" width="3.5" height="1" fill="#fff" />
<rect x="461" y="437" width="40" height="17" rx="2" fill="#000"/>
<rect x="463" y="439" width="36" height="12" rx="1" fill="#fff"/>
<text transform="translate(479.05,448.8) scale(0.7,1)" text-anchor="middle" font-size="13.5" font-family="Liberation Sans, sans-serif" fill="#000" stroke="#000" stroke-width="0.2" font-weight="normal" textLength="41.86" lengthAdjust="spacing">JC24</text>
<polygon points="499.00,442.00 501.00,442.00 506.40,442.50 510.90,443.40 515.40,444.20 519.00,444.80 519.00,446.20 515.40,446.80 510.90,447.60 506.40,448.50 501.00,449.00 499.00,449.00" fill="#000"/>
<polygon points="498.50,444.50 503.88,444.50 504.60,445.00 504.60,446.00 503.88,446.50 498.50,446.50" fill="#fff"/>
<rect x="521" y="436" width="6" height="19" fill="#000" />
<rect x="522.5" y="437" width="3.5" height="1" fill="#fff" />
<rect x="522.5" y="442" width="3.5" height="1" fill="#fff" />
<rect x="522.5" y="447" width="3.5" height="1" fill="#fff" />
<rect x="438" y="459" width="42" height="17" rx="2" fill="#000"/>
<rect x="440" y="461" width="38" height="12" rx="1" fill="#fff"/>
<text transform="translate(458.05,472.3) scale(0.7,1)" text-anchor="middle" font-size="13.5" font-family="Liberation Sans, sans-serif" fill="#000" stroke="#000" stroke-width="0.2" font-weight="normal" textLength="47.29" lengthAdjust="spacing">JFDC</text>
<polygon points="477.70,464.00 479.70,464.00 485.19,464.50 489.76,465.40 494.34,466.20 498.00,466.80 498.00,468.20 494.34,468.80 489.76,469.60 485.19,470.50 479.70,471.00 477.70,471.00" fill="#000"/>
<polygon points="477.20,466.50 482.63,466.50 483.36,467.00 483.36,468.00 482.63,468.50 477.20,468.50" fill="#fff"/>
<rect x="499" y="459" width="7" height="19" fill="#000" />
<rect x="500.5" y="460" width="4.0" height="1" fill="#fff" />
<rect x="500.5" y="466" width="4.0" height="1" fill="#fff" />
<rect x="500.5" y="471" width="4.0" height="1" fill="#fff" />
<rect x="327" y="477" width="119" height="13" fill="#000" />
<rect x="328" y="478" width="117" height="11" fill="#fff" />
<rect x="329" y="478" width="5" height="5" fill="#000" />
<rect x="329" y="484" width="5" height="4" fill="#000" />
<rect x="335" y="478" width="5" height="5" fill="#000" />
<rect x="335" y="484" width="5" height="4" fill="#000" />
<rect x="341" y="478" width="4" height="5" fill="#000" />
<rect x="341" y="484" width="4" height="4" fill="#000" />
<rect x="346" y="478" width="5" height="5" fill="#000" />
<rect x="346" y="484" width="5" height="4" fill="#000" />
<rect x="352" y="478" width="5" height="5" fill="#000" />
<rect x="352" y="484" width="5" height="4" fill="#000" />
<rect x="358" y="478" width="5" height="5" fill="#000" />
<rect x="358" y="484" width="5" height="4" fill="#000" />
<rect x="364" y="478" width="5" height="5" fill="#000" />
<rect x="364" y="484" width="5" height="4" fill="#000" />
<rect x="370" y="478" width="4" height="5" fill="#000" />
<rect x="370" y="484" width="4" height="4" fill="#000" />
<rect x="375" y="478" width="5" height="5" fill="#000" />
<rect x="375" y="484" width="5" height="4" fill="#000" />
<rect x="381" y="478" width="5" height="5" fill="#000" />
<rect x="381" y="484" width="5" height="4" fill="#000" />
<rect x="387" y="478" width="5" height="5" fill="#000" />
<rect x="387" y="484" width="5" height="4" fill="#000" />
<rect x="393" y="478" width="5" height="5" fill="#000" />
<rect x="393" y="484" width="5" height="4" fill="#000" />
<rect x="399" y="478" width="4" height="5" fill="#000" />
<rect x="399" y="484" width="4" height="4" fill="#000" />
<rect x="404" y="478" width="5" height="5" fill="#000" />
<rect x="404" y="484" width="5" height="4" fill="#000" />
<rect x="410" y="478" width="5" height="5" fill="#000" />
<rect x="410" y="484" width="5" height="4" fill="#000" />
<rect x="416" y="478" width="5" height="5" fill="#000" />
<rect x="416" y="484" width="5" height="4" fill="#000" />
<rect x="422" y="478" width="5" height="5" fill="#000" />
<rect x="422" y="484" width="5" height="4" fill="#000" />
<rect x="428" y="478" width="4" height="5" fill="#000" />
<rect x="428" y="484" width="4" height="4" fill="#000" />
<rect x="433" y="478" width="5" height="5" fill="#000" />
<rect x="433" y="484" width="5" height="4" fill="#000" />
<rect x="439" y="478" width="5" height="5" fill="#000" />
<rect x="439" y="484" width="5" height="4" fill="#000" />
<rect x="440" y="479" width="3" height="3" fill="#fff" />
<rect x="441" y="480" width="1" height="1" fill="#000" />
<rect x="345" y="502" width="101" height="13" fill="#000" />
<rect x="346" y="503" width="99" height="11" fill="#fff" />
<rect x="347" y="503" width="5" height="5" fill="#000" />
<rect x="347" y="509" width="5" height="4" fill="#000" />
<rect x="353" y="503" width="5" height="5" fill="#000" />
<rect x="353" y="509" width="5" height="4" fill="#000" />
<rect x="359" y="503" width="4" height="5" fill="#000" />
<rect x="359" y="509" width="4" height="4" fill="#000" />
<rect x="364" y="503" width="5" height="5" fill="#000" />
<rect x="364" y="509" width="5" height="4" fill="#000" />
<rect x="370" y="503" width="5" height="5" fill="#000" />
<rect x="370" y="509" width="5" height="4" fill="#000" />
<rect x="376" y="503" width="5" height="5" fill="#000" />
<rect x="376" y="509" width="5" height="4" fill="#000" />
<rect x="382" y="503" width="4" height="5" fill="#000" />
<rect x="382" y="509" width="4" height="4" fill="#000" />
<rect x="387" y="503" width="5" height="5" fill="#000" />
<rect x="387" y="509" width="5" height="4" fill="#000" />
<rect x="393" y="503" width="5" height="5" fill="#000" />
<rect x="393" y="509" width="5" height="4" fill="#000" />
<rect x="399" y="503" width="5" height="5" fill="#000" />
<rect x="399" y="509" width="5" height="4" fill="#000" />
<rect x="405" y="503" width="4" height="5" fill="#000" />
<rect x="405" y="509" width="4" height="4" fill="#000" />
<rect x="410" y="503" width="5" height="5" fill="#000" />
<rect x="410" y="509" width="5" height="4" fill="#000" />
<rect x="416" y="503" width="5" height="5" fill="#000" />
<rect x="416" y="509" width="5" height="4" fill="#000" />
<rect x="422" y="503" width="5" height="5" fill="#000" />
<rect x="422" y="509" width="5" height="4" fill="#000" />
<rect x="428" y="503" width="4" height="5" fill="#000" />
<rect x="428" y="509" width="4" height="4" fill="#000" />
<rect x="433" y="503" width="5" height="5" fill="#000" />
<rect x="433" y="509" width="5" height="4" fill="#000" />
<rect x="439" y="503" width="5" height="5" fill="#000" />
<rect x="439" y="509" width="5" height="4" fill="#000" />
<rect x="440" y="504" width="3" height="3" fill="#fff" />
<rect x="441" y="505" width="1" height="1" fill="#000" />
<rect x="267" y="474" width="40" height="19" rx="2" fill="#000"/>
<rect x="269" y="476" width="36" height="14" rx="1" fill="#fff"/>
<text transform="translate(285.95,487) scale(0.7,1)" text-anchor="middle" font-size="13.5" font-family="Liberation Sans, sans-serif" fill="#000" stroke="#000" stroke-width="0.2" font-weight="normal" textLength="49.29" lengthAdjust="spacing">JHDD</text>
<polygon points="304.50,479.50 306.50,479.50 311.45,480.00 315.57,480.90 319.70,481.70 323.00,482.30 323.00,483.70 319.70,484.30 315.57,485.10 311.45,486.00 306.50,486.50 304.50,486.50" fill="#000"/>
<polygon points="304.00,482.00 309.14,482.00 309.80,482.50 309.80,483.50 309.14,484.00 304.00,484.00" fill="#fff"/>
<rect x="286" y="499" width="41" height="18" rx="2" fill="#000"/>
<rect x="288" y="501" width="37" height="13" rx="1" fill="#fff"/>
<text transform="translate(305.40,512) scale(0.7,1)" text-anchor="middle" font-size="13.5" font-family="Liberation Sans, sans-serif" fill="#000" stroke="#000" stroke-width="0.2" font-weight="normal" textLength="48.86" lengthAdjust="spacing">JFDD</text>
<polygon points="324.50,504.50 326.50,504.50 331.75,505.00 336.12,505.90 340.50,506.70 344.00,507.30 344.00,508.70 340.50,509.30 336.12,510.10 331.75,511.00 326.50,511.50 324.50,511.50" fill="#000"/>
<polygon points="324.00,507.00 329.30,507.00 330.00,507.50 330.00,508.50 329.30,509.00 324.00,509.00" fill="#fff"/>
<rect x="460" y="494" width="113" height="25" fill="#000" />
<rect x="461" y="495" width="111" height="23" fill="#fff" />
<rect x="461" y="502" width="111" height="1" fill="#000" />
<rect x="462" y="498" width="7" height="3" fill="#000" />
<rect x="463" y="499" width="5" height="1" fill="#fff" />
<rect x="463" y="501" width="5" height="1" fill="#000" />
<rect x="462" y="505" width="7" height="2" fill="#000" />
<rect x="472" y="498" width="7" height="3" fill="#000" />
<rect x="473" y="499" width="5" height="1" fill="#fff" />
<rect x="473" y="501" width="5" height="1" fill="#000" />
<rect x="472" y="505" width="7" height="2" fill="#000" />
<rect x="481" y="498" width="7" height="3" fill="#000" />
<rect x="482" y="499" width="5" height="1" fill="#fff" />
<rect x="482" y="501" width="5" height="1" fill="#000" />
<rect x="481" y="505" width="7" height="2" fill="#000" />
<rect x="490" y="498" width="7" height="3" fill="#000" />
<rect x="491" y="499" width="5" height="1" fill="#fff" />
<rect x="491" y="501" width="5" height="1" fill="#000" />
<rect x="490" y="505" width="7" height="2" fill="#000" />
<rect x="500" y="498" width="7" height="3" fill="#000" />
<rect x="501" y="499" width="5" height="1" fill="#fff" />
<rect x="501" y="501" width="5" height="1" fill="#000" />
<rect x="500" y="505" width="7" height="2" fill="#000" />
<rect x="509" y="498" width="7" height="3" fill="#000" />
<rect x="510" y="499" width="5" height="1" fill="#fff" />
<rect x="510" y="501" width="5" height="1" fill="#000" />
<rect x="509" y="505" width="7" height="2" fill="#000" />
<rect x="518" y="498" width="7" height="3" fill="#000" />
<rect x="519" y="499" width="5" height="1" fill="#fff" />
<rect x="519" y="501" width="5" height="1" fill="#000" />
<rect x="518" y="505" width="7" height="2" fill="#000" />
<rect x="527" y="498" width="7" height="3" fill="#000" />
<rect x="528" y="499" width="5" height="1" fill="#fff" />
<rect x="528" y="501" width="5" height="1" fill="#000" />
<rect x="527" y="505" width="7" height="2" fill="#000" />
<rect x="536" y="498" width="7" height="3" fill="#000" />
<rect x="537" y="499" width="5" height="1" fill="#fff" />
<rect x="537" y="501" width="5" height="1" fill="#000" />
<rect x="536" y="505" width="7" height="2" fill="#000" />
<rect x="546" y="498" width="7" height="3" fill="#000" />
<rect x="547" y="499" width="5" height="1" fill="#fff" />
<rect x="547" y="501" width="5" height="1" fill="#000" />
<rect x="546" y="505" width="7" height="2" fill="#000" />
<rect x="555" y="498" width="7" height="3" fill="#000" />
<rect x="556" y="499" width="5" height="1" fill="#fff" />
<rect x="556" y="501" width="5" height="1" fill="#000" />
<rect x="555" y="505" width="7" height="2" fill="#000" />
<rect x="564" y="498" width="7" height="3" fill="#000" />
<rect x="565" y="499" width="5" height="1" fill="#fff" />
<rect x="565" y="501" width="5" height="1" fill="#000" />
<rect x="564" y="505" width="7" height="2" fill="#000" />
<rect x="466" y="508" width="8" height="8" fill="#000" />
<rect x="467" y="509" width="6" height="6" fill="#fff" />
<rect x="475" y="508" width="8" height="8" fill="#000" />
<rect x="476" y="509" width="6" height="6" fill="#fff" />
<rect x="485" y="508" width="8" height="8" fill="#000" />
<rect x="486" y="509" width="6" height="6" fill="#fff" />
<rect x="494" y="508" width="8" height="8" fill="#000" />
<rect x="495" y="509" width="6" height="6" fill="#fff" />
<rect x="503" y="508" width="8" height="8" fill="#000" />
<rect x="504" y="509" width="6" height="6" fill="#fff" />
<rect x="513" y="508" width="8" height="8" fill="#000" />
<rect x="514" y="509" width="6" height="6" fill="#fff" />
<rect x="522" y="508" width="8" height="8" fill="#000" />
<rect x="523" y="509" width="6" height="6" fill="#fff" />
<rect x="531" y="508" width="8" height="8" fill="#000" />
<rect x="532" y="509" width="6" height="6" fill="#fff" />
<rect x="541" y="508" width="8" height="8" fill="#000" />
<rect x="542" y="509" width="6" height="6" fill="#fff" />
<rect x="550" y="508" width="8" height="8" fill="#000" />
<rect x="551" y="509" width="6" height="6" fill="#fff" />
<rect x="560" y="508" width="8" height="8" fill="#000" />
<rect x="561" y="509" width="6" height="6" fill="#fff" />
<rect x="460" y="509" width="3" height="6" fill="#000" />
<rect x="460" y="510" width="2" height="4" fill="#fff" />
<rect x="570" y="509" width="3" height="6" fill="#000" />
<rect x="571" y="510" width="2" height="4" fill="#fff" />
</g>
</svg>
</body></html>
